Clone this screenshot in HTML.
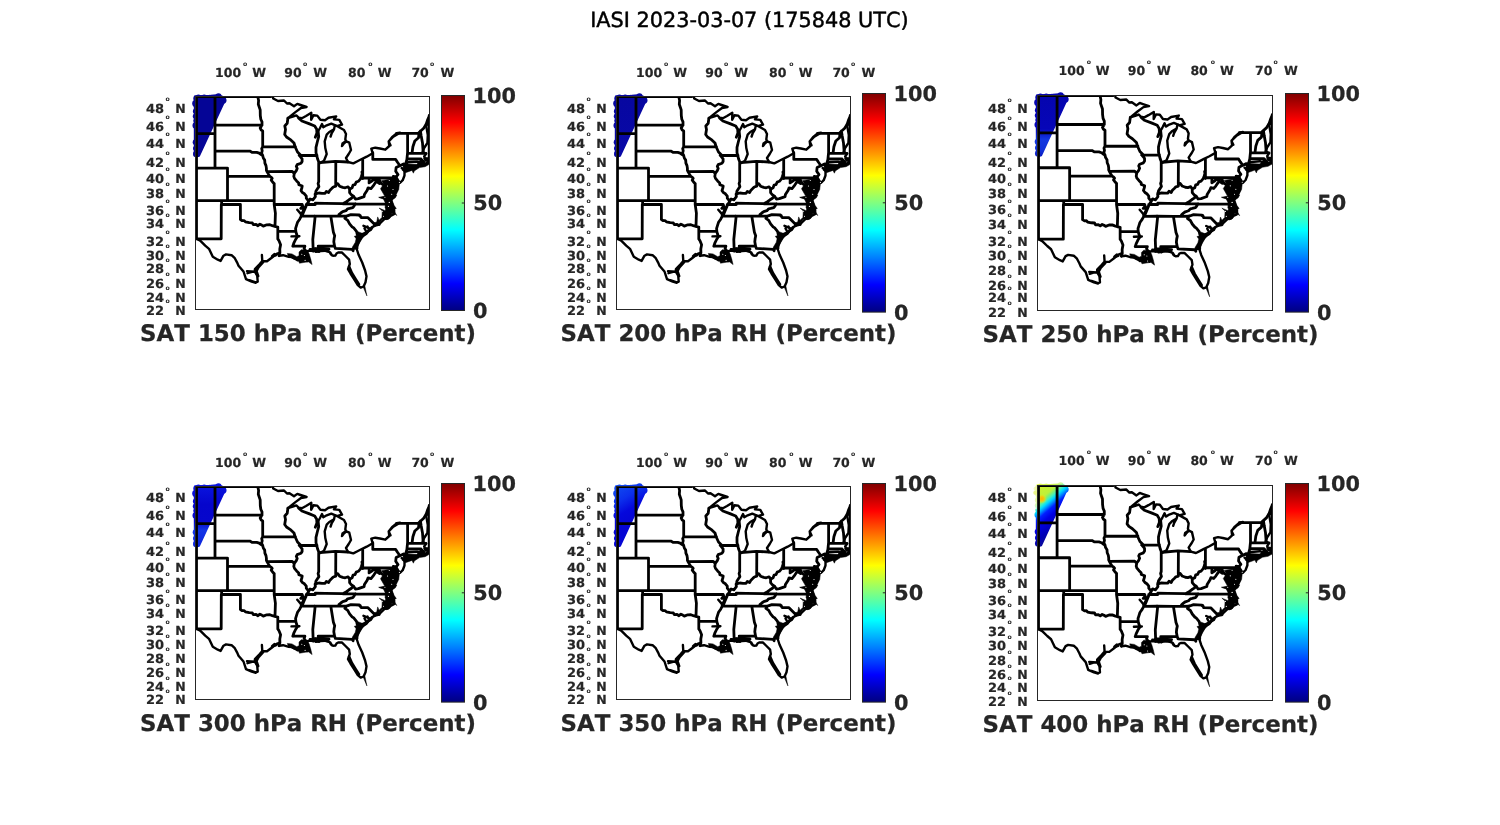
<!DOCTYPE html>
<html><head><meta charset="utf-8"><title>IASI 2023-03-07 (175848 UTC)</title>
<style>
html,body{margin:0;padding:0;background:#fff;}
body{width:1500px;height:825px;overflow:hidden;}
svg{display:block;}
text{font-family:"DejaVu Sans","Liberation Sans",sans-serif;font-kerning:none;text-rendering:geometricPrecision;}
.tt{font-size:20.8px;fill:#000;stroke:#000;stroke-width:0.45px;}
.tk{font-size:12.5px;font-weight:bold;fill:#262626;stroke:#262626;stroke-width:0.2px;}
.dg{font-size:6.2px;font-weight:bold;fill:#262626;}
.cb{font-size:20.8px;font-weight:bold;fill:#262626;stroke:#262626;stroke-width:0.25px;}
.xl{font-size:22.92px;font-weight:bold;fill:#262626;stroke:#262626;stroke-width:0.25px;}
</style></head><body>
<svg width="1500" height="825" viewBox="0 0 1500 825">
<defs>
<clipPath id="clipbox"><rect x="195" y="96" width="235" height="214"/></clipPath>
<linearGradient id="jet" x1="0" y1="0" x2="0" y2="1"><stop offset="0.0000" stop-color="#800000"/><stop offset="0.0312" stop-color="#9f0000"/><stop offset="0.0625" stop-color="#bf0000"/><stop offset="0.0938" stop-color="#df0000"/><stop offset="0.1250" stop-color="#ff0000"/><stop offset="0.1562" stop-color="#ff2000"/><stop offset="0.1875" stop-color="#ff4000"/><stop offset="0.2188" stop-color="#ff6000"/><stop offset="0.2500" stop-color="#ff8000"/><stop offset="0.2812" stop-color="#ff9f00"/><stop offset="0.3125" stop-color="#ffbf00"/><stop offset="0.3438" stop-color="#ffdf00"/><stop offset="0.3750" stop-color="#ffff00"/><stop offset="0.4062" stop-color="#dfff20"/><stop offset="0.4375" stop-color="#bfff40"/><stop offset="0.4688" stop-color="#9fff60"/><stop offset="0.5000" stop-color="#80ff80"/><stop offset="0.5312" stop-color="#60ff9f"/><stop offset="0.5625" stop-color="#40ffbf"/><stop offset="0.5938" stop-color="#20ffdf"/><stop offset="0.6250" stop-color="#00ffff"/><stop offset="0.6562" stop-color="#00dfff"/><stop offset="0.6875" stop-color="#00bfff"/><stop offset="0.7188" stop-color="#009fff"/><stop offset="0.7500" stop-color="#0080ff"/><stop offset="0.7812" stop-color="#0060ff"/><stop offset="0.8125" stop-color="#0040ff"/><stop offset="0.8438" stop-color="#0020ff"/><stop offset="0.8750" stop-color="#0000ff"/><stop offset="0.9062" stop-color="#0000df"/><stop offset="0.9375" stop-color="#0000bf"/><stop offset="0.9688" stop-color="#00009f"/><stop offset="1.0000" stop-color="#000080"/></linearGradient>
<linearGradient id="b1" gradientUnits="userSpaceOnUse" x1="196" y1="96" x2="196" y2="157"><stop offset="0" stop-color="#050596"/><stop offset="1" stop-color="#050596"/></linearGradient>
<linearGradient id="b2" gradientUnits="userSpaceOnUse" x1="196" y1="96" x2="196" y2="157"><stop offset="0" stop-color="#0707a0"/><stop offset="1" stop-color="#0808a8"/></linearGradient>
<linearGradient id="b3" gradientUnits="userSpaceOnUse" x1="196" y1="96" x2="196" y2="157"><stop offset="0" stop-color="#0505ae"/><stop offset="0.55" stop-color="#0606b8"/><stop offset="0.72" stop-color="#1238e0"/><stop offset="0.9" stop-color="#1030d8"/><stop offset="1" stop-color="#0818c0"/></linearGradient>
<linearGradient id="b4" gradientUnits="userSpaceOnUse" x1="196" y1="96" x2="196" y2="157"><stop offset="0" stop-color="#0a14de"/><stop offset="0.3" stop-color="#0505cc"/><stop offset="0.58" stop-color="#0606cc"/><stop offset="0.72" stop-color="#1234e6"/><stop offset="1" stop-color="#0c24dc"/></linearGradient>
<linearGradient id="b5" gradientUnits="userSpaceOnUse" x1="196" y1="98" x2="214" y2="128"><stop offset="0" stop-color="#1048f0"/><stop offset="0.35" stop-color="#0c30ec"/><stop offset="0.7" stop-color="#0508dc"/><stop offset="1" stop-color="#0505d4"/></linearGradient>
<linearGradient id="b6" gradientUnits="userSpaceOnUse" x1="196" y1="97" x2="225.8" y2="132.1"><stop offset="0.000" stop-color="#d4f028"/><stop offset="0.250" stop-color="#bcf03c"/><stop offset="0.304" stop-color="#80f070"/><stop offset="0.359" stop-color="#40f0c0"/><stop offset="0.413" stop-color="#00d8ff"/><stop offset="0.467" stop-color="#0090ff"/><stop offset="0.543" stop-color="#0020ff"/><stop offset="0.663" stop-color="#0000e4"/><stop offset="0.891" stop-color="#0000b4"/><stop offset="1.000" stop-color="#0808a0"/></linearGradient>
<radialGradient id="or6" gradientUnits="userSpaceOnUse" cx="199.9" cy="109.7" r="5"><stop offset="0" stop-color="#ffb000"/><stop offset="0.45" stop-color="#ffc400" stop-opacity="0.85"/><stop offset="1" stop-color="#d8f028" stop-opacity="0"/></radialGradient>
</defs>
<rect width="1500" height="825" fill="#fff"/>
<text class="tt" x="590.2" y="26.9">IASI 2023-03-07 (175848 UTC)</text>
<g transform="matrix(1.00000 0 0 1.00000 0.000 0.000)">
<g><path d="M195 96L211 95.6L216.5 95L222 96.2L225.3 99.6L199.2 156L196.5 156.6L194.6 155L194.6 96.5Z" fill="url(#b1)" stroke="url(#b1)" stroke-width="1.6" stroke-linejoin="round"/>
<circle cx="198.4" cy="97.3" r="2.8" fill="url(#b1)"/>
<circle cx="204.2" cy="97.3" r="2.8" fill="url(#b1)"/>
<circle cx="210" cy="97.5" r="2.8" fill="url(#b1)"/>
<circle cx="218.5" cy="96.4" r="3.1" fill="url(#b1)"/>
<circle cx="223.4" cy="100.4" r="3.1" fill="url(#b1)"/>
<circle cx="196.2" cy="98.6" r="2.8" fill="url(#b1)"/>
<circle cx="195.9" cy="103.4" r="3.7" fill="url(#b1)"/>
<circle cx="195.6" cy="111.2" r="2.7" fill="url(#b1)"/>
<circle cx="195.6" cy="116.3" r="2.8" fill="url(#b1)"/>
<circle cx="195.6" cy="120.8" r="2.3" fill="url(#b1)"/>
<circle cx="195.8" cy="125.5" r="3.3" fill="url(#b1)"/>
<circle cx="195.7" cy="142.3" r="3.0" fill="url(#b1)"/>
<circle cx="195.6" cy="148.3" r="2.6" fill="url(#b1)"/>
<circle cx="196.3" cy="154.0" r="3.3" fill="url(#b1)"/></g>
<path clip-path="url(#clipbox)" d="M402.2 170.4L403.6 165.7L406.9 163.9L416.7 164.3L420.4 160.6L425.1 162.5L429.3 160.6L429.3 164.3L425.1 166.7L419.5 167.6L414.3 170.9L413.4 173.2L412.0 170.4L405.5 172.7ZM423.5 158.0L429.3 157.5L429.3 161.5L424.5 161.5ZM381.4 180.7L389.3 179.3L394.3 177.4L396.3 177.5L399.6 182.1L398.7 189.6L395.4 196.1L391.7 199.9L394.5 208.0L385.1 208.0L386.1 199.9L379.1 197.5L384.7 196.1L380.5 188.7L383.7 184.0ZM429.5 115.5L429.5 126.0L426.0 125.5L427.4 120.4ZM299.0 252.0L301.3 249.7L307.4 250.1L309.3 254.3L310.7 259.0L312.1 264.6L308.3 261.8L305.1 262.3L299.5 263.2L298.5 260.4L294.3 259.5L288.3 256.2L287.3 253.4L292.0 253.9L296.7 256.7L299.0 255.7ZM386.1 195.0L396.8 195.0L395.4 197.8L392.1 200.1L394.0 205.3L396.3 208.5L393.5 209.9L396.8 215.5L394.5 213.7L391.7 213.7L389.8 218.3L387.0 219.7L382.3 219.3L379.5 223.0L379.5 225.3L374.9 226.3L373.0 223.0L376.7 222.1L377.7 216.9L379.1 220.2L381.9 217.4L382.3 210.9L379.1 208.1L384.7 210.4L385.6 209.9L385.1 202.5L383.3 198.7L378.6 197.3L384.7 196.9ZM358.0 231.7L362.7 233.5L369.7 231.2L362.7 237.7L359.9 242.4L358.0 246.1L358.0 248.9L352.4 248.9L352.4 247.1L355.2 242.4L356.1 238.7L354.3 236.3L357.1 235.4ZM362.9 286.3L364.8 285.8L366.9 295.9Z" fill="#000" stroke="#000" stroke-width="0.5" stroke-linejoin="round"/>
<path clip-path="url(#clipbox)" d="M196.5 96.7L270.8 96.7M196.5 96.7L196.5 238.8M215.0 96.7L215.0 168.1M196.5 133.6L215.0 133.6M215.0 125.2L262.0 125.2M215.0 151.1L249.8 151.1L252.3 152.4L253.9 152.3L256.7 152.4L259.2 153.2L261.1 154.6L262.7 155.5M196.5 168.1L227.5 168.1M227.5 168.1L227.5 200.6M227.5 176.4L269.8 176.4M196.5 200.6L274.2 200.6M221.6 200.6L221.6 204.5M221.3 204.5L240.4 204.5M240.4 204.5L240.4 219.5M221.3 204.5L221.2 238.8M221.2 238.8L196.5 238.8M257.8 96.7L258.6 100.5L258.3 104.3L260.2 109.9L260.3 115.5L260.8 119.2L262.0 121.9L262.0 125.2L260.2 128.1L261.2 130.0L262.7 130.9L262.7 146.8M262.7 146.8L295.5 146.8M262.7 146.8L261.7 148.6L262.2 150.7L261.6 153.3L262.7 155.5M262.7 155.5L263.3 158.0L264.7 160.1L264.9 163.1L266.0 165.6L266.4 168.1L266.4 170.2L267.0 171.6L268.3 173.9L269.8 176.4L271.5 177.5L272.2 178.4L271.2 180.1L272.4 181.7L274.2 183.7M267.0 171.6L292.3 171.4L293.8 173.1L294.3 173.3M274.2 183.7L274.2 204.5M274.2 204.5L275.4 213.1L275.0 226.5M274.2 204.5L302.2 204.5L302.7 206.1L300.8 208.4L305.1 208.4M240.4 219.5L242.3 220.7L244.2 220.6L245.4 221.9L249.2 222.6L252.3 222.8L253.3 224.7L256.1 224.5L258.0 225.7L259.9 224.2L261.7 225.1L263.3 226.1L266.8 224.8L269.9 224.7L272.4 225.7L275.0 226.5L277.8 227.2M277.8 227.2L277.8 238.9L279.0 240.7L280.6 244.7L279.8 249.1L279.9 252.8L279.0 255.7M277.8 231.2L295.8 231.3M299.2 155.4L300.7 157.1L302.1 158.8L302.1 161.4L301.0 163.2L297.2 164.6L296.3 166.3L297.2 168.5L296.3 170.6L294.3 173.3L293.8 176.4L294.5 178.4L296.6 180.9L298.7 182.9L298.8 184.6L300.3 185.2L302.2 186.0L301.9 187.8L301.0 190.6L302.5 192.6L304.4 193.8L306.3 196.2L306.3 198.2L307.6 199.8L308.6 200.7L308.2 203.7L306.3 204.5L306.0 206.4L305.1 208.4L303.8 211.5L302.5 214.6L301.3 216.2L299.7 219.2L297.5 222.3L296.3 226.1L295.6 228.3L295.8 231.3L296.6 234.3L297.5 236.6L295.6 239.5L293.8 243.2L292.8 246.2M292.8 246.2L304.9 246.2L304.1 248.4L305.4 250.6L306.1 252.2M299.2 155.4L317.0 155.5M318.7 162.1L318.7 181.7L318.1 183.7L318.9 186.6L317.3 189.0L316.0 191.0L315.6 192.6L315.1 194.2M362.7 171.1L361.9 171.9L362.2 173.9L361.4 176.4L360.5 178.9L358.4 181.3L356.2 182.1L355.0 184.6L353.1 185.0L352.1 187.8L349.6 189.2L348.1 186.8L345.2 187.8L342.7 187.4L339.6 186.2L337.7 183.7L335.7 183.7L335.8 186.2L333.3 187.0L331.7 188.6L329.8 190.4L328.6 192.6L326.4 191.4L325.1 193.3L322.0 193.3L318.9 193.0L316.4 193.6L315.1 194.2L315.4 196.6L312.9 199.8L310.1 199.0L308.6 200.7M335.7 183.7L335.8 162.2M306.3 204.5L315.3 204.5L315.3 203.1L325.1 203.3L342.8 203.7L355.4 203.8L365.9 204.1L391.9 204.1M342.8 203.7L346.5 201.7L349.0 199.8L351.5 198.2L353.6 196.3L351.5 195.0L349.6 192.6L349.6 189.2M355.4 203.8L354.0 206.1L352.8 207.6L349.6 208.4L347.7 208.8L345.9 210.7L342.7 211.7L340.8 213.0L338.9 214.6L338.8 216.2M301.3 216.2L314.5 216.1L330.8 216.2L338.8 216.2L346.4 216.1M346.4 216.1L350.9 214.6L359.3 215.0L359.5 215.7L360.1 215.4L361.0 217.5L368.0 217.7L375.0 224.8M314.5 216.1L315.1 216.9L312.8 239.5L313.2 251.0M330.8 216.2L333.4 232.3L334.7 235.8L334.1 238.8L333.8 241.8L334.6 246.2M334.6 246.2L318.2 246.2L319.5 248.4L318.9 251.5M334.6 246.2L335.4 248.4L352.1 249.3L353.1 250.8L353.4 248.4L355.3 248.0L356.8 248.4M346.4 216.1L344.9 218.4L347.7 220.3L349.6 223.8L352.1 226.8L353.7 227.9L356.5 231.3L357.2 234.3L358.7 237.3L360.3 238.6M353.6 196.3L355.4 199.0L358.4 198.6L364.1 196.6L364.4 194.6L367.2 190.2L368.1 187.8L371.0 188.6L373.0 186.2L376.3 181.3L379.6 183.5L380.3 182.0L379.1 179.7L377.2 178.9L375.7 180.1L373.5 179.5L372.2 180.9L369.1 182.9L369.2 178.7M362.7 178.0L392.4 178.0L393.6 177.5M362.7 178.7L362.7 159.9M392.4 178.7L392.4 189.0L397.0 189.0M380.3 182.0L381.6 183.7L384.0 185.1L384.5 187.0L382.9 189.4L384.8 190.2L387.3 191.4L389.2 193.0M270.8 96.7M287.9 118.2L287.2 123.3L284.8 126.0L285.5 129.5L284.7 134.5L286.5 137.0L290.0 139.3L294.0 143.0L295.0 146.5L297.5 152.0L301.0 155.5M298.7 118.2L301.9 121.0L308.9 123.6L314.7 126.0L316.7 129.3L316.9 133.0M316.9 133.0L315.3 137.2L316.2 135.0L318.2 132.0L318.7 136.7L317.3 142.0L316.0 147.3L316.0 152.7L317.7 159.3L319.3 163.3M320.0 162.6L335.3 161.3L348.0 162.0M396.6 133.3L419.0 133.3M407.6 133.3L407.6 152.3L406.9 159.3L405.9 163.0L404.0 165.5M419.0 133.3L418.5 137.8L414.8 141.0L412.9 146.7L412.0 153.3M420.4 131.0L421.2 136.0L422.5 143.0L423.2 152.3M419.0 132.5L423.7 128.3L426.0 124.6L427.4 120.4L429.5 115.5M429.2 115.5L429.2 160.0M407.6 153.4L426.0 153.4M406.9 159.0L420.9 159.0L423.7 162.0M420.9 159.0L421.0 163.0M372.8 152.7L372.8 159.4L395.7 159.4L397.5 162.3L399.9 165.7L396.1 167.6L395.7 171.3L398.0 174.6L396.1 176.8L393.3 176.5M399.9 165.7L403.5 164.0M310.0 249.5L327.7 250.9M313.0 248.3L329.0 249.2M309.8 199.5L306.5 205.0L303.8 210.0L301.2 215.0M275.8 255.2L272.2 256.3L274.5 254.2M262.8 262.4L258.3 267.3L256.3 271.0L258.0 276.0M349.2 267.0L351.8 273.0L355.6 279.2L358.8 284.3" fill="none" stroke="#000" stroke-width="2.8" stroke-linejoin="round" stroke-linecap="round"/>
<path clip-path="url(#clipbox)" d="M393.9 179.7L394.8 182.1L396.7 186.2L397.0 189.0L395.8 192.4L393.6 196.2L391.4 199.6L391.0 196.6L392.3 193.0L391.7 191.0L389.2 188.6L389.8 186.2L390.4 184.6L391.0 181.3L390.4 180.1L388.5 182.9L387.9 185.4L388.5 190.2L389.2 192.6L387.3 191.4L389.2 193.0L389.5 193.4L386.7 193.0L389.2 196.2L386.0 196.6L389.2 198.6L385.4 199.0L389.2 200.6L391.0 201.1L391.9 204.1M391.9 204.1L394.2 210.7L394.0 214.2L391.0 215.6L387.9 218.4L384.8 218.7L380.4 223.0L378.8 224.9L375.0 224.8L372.2 227.6L371.0 229.8L368.5 231.3L366.6 233.6L363.4 235.5L361.5 237.3L360.3 238.6L358.4 242.5L357.2 246.2L356.8 248.4M391.9 204.1L391.0 206.8L387.3 208.4L391.7 208.8L392.3 211.5L387.3 212.3L389.8 213.8L385.4 215.4L387.9 216.5L387.9 218.4M332.0 255.3L330.2 252.4L325.1 250.7L320.7 251.1L318.9 251.5L315.7 251.8L315.7 248.8L315.1 251.0L313.2 251.0L309.4 250.6L306.9 251.3L306.1 252.2L304.4 253.1L306.9 255.0L307.6 258.2L309.4 259.7L306.9 261.1L303.8 258.6L301.9 260.0L297.5 260.4L295.0 258.6L291.9 257.1L288.7 256.8L283.1 255.2L279.0 255.7M255.8 282.8L251.7 281.7L246.0 279.2L243.5 271.5L238.5 265.8L237.3 262.9L234.8 258.2L231.6 255.2L226.0 254.4L223.5 255.7L220.6 260.9L217.8 259.7L212.8 256.8L210.9 252.8L209.0 248.8L205.2 245.6L200.2 240.7L196.5 238.8M273.0 96.8L273.2 98.5L278.0 101.0L284.0 100.5L287.0 103.5L289.5 103.2L294.0 106.3L297.3 103.9L300.5 105.0L306.6 107.0L301.0 108.0L295.4 112.1L287.9 118.2M287.9 118.2L293.5 116.3L296.3 115.4L298.7 117.6L301.9 118.2L306.0 116.0L311.3 112.8L311.2 119.8L313.5 115.2L317.3 115.6L320.4 119.8L325.0 120.2L328.5 117.8L336.2 116.4L334.0 119.4L339.3 119.9L342.0 124.6L337.5 125.8M318.0 131.5L320.0 128.0L322.0 124.0L323.3 127.3L326.7 125.3L331.3 123.6L336.0 125.6M336.0 125.6L334.7 126.3L334.0 129.3L329.3 132.0L326.7 134.7L324.7 141.3L325.3 148.0L326.7 154.0L324.0 160.7L319.3 163.3M334.0 129.3L331.6 133.5L330.6 136.5M337.3 126.3L344.0 130.0L346.0 134.0L345.3 139.3L346.0 141.0L342.5 143.5L342.0 146.0L343.5 144.0L346.3 141.3L349.3 142.7L351.0 150.0L348.7 154.0L346.0 158.0L348.0 162.0M348.0 162.0L353.3 163.4L357.0 161.5L361.3 159.3L366.7 156.7L372.7 153.3L371.3 148.7L375.3 147.7L380.0 148.5L385.3 149.7L389.3 146.0L388.7 141.3L393.3 136.7L400.0 132.7M400.0 132.7L396.6 133.3L392.0 137.2L388.7 141.5L390.5 145.3M426.0 124.6L427.8 135.0L427.4 143.0L424.1 148.0L422.7 151.8L426.0 153.8M426.0 153.8L424.2 156.5L425.0 158.2L429.3 159.3M404.0 165.5L408.0 162.3L417.0 161.6L421.0 163.0M401.7 168.0L404.5 170.4L404.5 175.5L402.7 180.2L399.9 183.0L398.0 180.2L396.1 176.8M291.5 236.4L299.4 236.2M297.3 209.7L300.6 213.6M379.5 224.5L376.7 225.0L372.0 227.2L367.3 231.7L362.7 234.0L358.9 235.4M369.0 228.2L363.5 225.8M369.0 229.8L367.5 226.5M366.5 232.0L364.5 228.5M279.3 253.0L276.5 254.0L274.3 255.3L271.7 257.8L267.0 261.3L262.3 261.1L259.5 264.3L254.9 269.0L254.9 271.8L257.2 275.5L257.7 281.6L255.8 282.5L249.3 280.2M262.3 261.1L261.9 255.0M254.9 271.8L247.0 271.2M252.0 271.8L247.5 273.2M327.7 250.9L329.5 252.0L330.9 254.5L333.0 255.7L335.3 255.6L336.8 253.2L338.2 252.5L341.8 252.4L345.5 256.0L349.1 259.6L349.8 264.0L348.0 269.1L350.5 273.5L354.2 279.3L357.8 285.1L360.7 287.6L363.6 286.5M356.4 248.0L358.5 254.5L362.2 262.5L365.1 270.5L366.5 276.4L365.5 282.2L363.6 286.5" fill="none" stroke="#000" stroke-width="2.4" stroke-linejoin="round" stroke-linecap="round"/>
<circle cx="389.3" cy="180.5" r="0.55" fill="#fff"/><circle cx="399.4" cy="182.4" r="0.55" fill="#fff"/><circle cx="384.9" cy="197.3" r="0.55" fill="#fff"/><circle cx="391.7" cy="194.3" r="0.55" fill="#fff"/><circle cx="389.3" cy="202.2" r="0.55" fill="#fff"/><circle cx="388.4" cy="206.4" r="0.55" fill="#fff"/><circle cx="389.3" cy="202.5" r="0.55" fill="#fff"/><circle cx="382.6" cy="211.3" r="0.55" fill="#fff"/><circle cx="383.5" cy="216.3" r="0.55" fill="#fff"/><circle cx="301.8" cy="254.3" r="0.55" fill="#fff"/><circle cx="304.4" cy="255.5" r="0.55" fill="#fff"/><circle cx="305.1" cy="260.4" r="0.55" fill="#fff"/><circle cx="387.5" cy="186" r="0.55" fill="#fff"/><circle cx="393" cy="189.5" r="0.55" fill="#fff"/>
</g>
<rect x="195.5" y="96.5" width="234" height="213" fill="none" stroke="#262626" stroke-width="1"/>
<text class="tk" x="215.0" y="76.8">100</text><text class="dg" x="243.1" y="65.9">o</text><text class="tk" x="252.2" y="76.8">W</text>
<text class="tk" x="284.2" y="76.8">90</text><text class="dg" x="303.1" y="65.9">o</text><text class="tk" x="313.3" y="76.8">W</text>
<text class="tk" x="348.0" y="76.8">80</text><text class="dg" x="368.3" y="65.9">o</text><text class="tk" x="377.7" y="76.8">W</text>
<text class="tk" x="411.4" y="76.8">70</text><text class="dg" x="429.9" y="65.9">o</text><text class="tk" x="440.5" y="76.8">W</text>
<text class="tk" x="145.9" y="112.7" textLength="18.1" lengthAdjust="spacingAndGlyphs">48</text><text class="dg" x="165.6" y="101.3">o</text><text class="tk" x="175.3" y="112.7">N</text>
<text class="tk" x="145.9" y="130.8" textLength="18.1" lengthAdjust="spacingAndGlyphs">46</text><text class="dg" x="165.6" y="119.4">o</text><text class="tk" x="175.3" y="130.8">N</text>
<text class="tk" x="145.9" y="147.6" textLength="18.1" lengthAdjust="spacingAndGlyphs">44</text><text class="dg" x="165.6" y="136.2">o</text><text class="tk" x="175.3" y="147.6">N</text>
<text class="tk" x="145.9" y="166.6" textLength="18.1" lengthAdjust="spacingAndGlyphs">42</text><text class="dg" x="165.6" y="155.2">o</text><text class="tk" x="175.3" y="166.6">N</text>
<text class="tk" x="145.9" y="182.8" textLength="18.1" lengthAdjust="spacingAndGlyphs">40</text><text class="dg" x="165.6" y="171.4">o</text><text class="tk" x="175.3" y="182.8">N</text>
<text class="tk" x="145.9" y="197.8" textLength="18.1" lengthAdjust="spacingAndGlyphs">38</text><text class="dg" x="165.6" y="186.4">o</text><text class="tk" x="175.3" y="197.8">N</text>
<text class="tk" x="145.9" y="214.5" textLength="18.1" lengthAdjust="spacingAndGlyphs">36</text><text class="dg" x="165.6" y="203.1">o</text><text class="tk" x="175.3" y="214.5">N</text>
<text class="tk" x="145.9" y="228.3" textLength="18.1" lengthAdjust="spacingAndGlyphs">34</text><text class="dg" x="165.6" y="216.9">o</text><text class="tk" x="175.3" y="228.3">N</text>
<text class="tk" x="145.9" y="245.8" textLength="18.1" lengthAdjust="spacingAndGlyphs">32</text><text class="dg" x="165.6" y="234.4">o</text><text class="tk" x="175.3" y="245.8">N</text>
<text class="tk" x="145.9" y="259.8" textLength="18.1" lengthAdjust="spacingAndGlyphs">30</text><text class="dg" x="165.6" y="248.4">o</text><text class="tk" x="175.3" y="259.8">N</text>
<text class="tk" x="145.9" y="273.0" textLength="18.1" lengthAdjust="spacingAndGlyphs">28</text><text class="dg" x="165.6" y="261.6">o</text><text class="tk" x="175.3" y="273.0">N</text>
<text class="tk" x="145.9" y="287.7" textLength="18.1" lengthAdjust="spacingAndGlyphs">26</text><text class="dg" x="165.6" y="276.3">o</text><text class="tk" x="175.3" y="287.7">N</text>
<text class="tk" x="145.9" y="301.8" textLength="18.1" lengthAdjust="spacingAndGlyphs">24</text><text class="dg" x="165.6" y="290.4">o</text><text class="tk" x="175.3" y="301.8">N</text>
<text class="tk" x="145.9" y="314.7" textLength="18.1" lengthAdjust="spacingAndGlyphs">22</text><text class="dg" x="165.6" y="303.3">o</text><text class="tk" x="175.3" y="314.7">N</text>
<rect x="441.5" y="95.5" width="23" height="215" fill="url(#jet)" stroke="#262626" stroke-width="1"/>
<path d="M464.5 203.0h-2.7" stroke="#262626" stroke-width="1"/>
<text class="cb" x="472.6" y="102.8">100</text><text class="cb" x="473.2" y="210.0">50</text><text class="cb" x="473.0" y="318.1">0</text>
<text class="xl" x="140.1" y="340.9">SAT 150 hPa RH (Percent)</text>
<g transform="matrix(1.00000 0 0 1.00000 421.000 0.000)">
<g><path d="M195 96L211 95.6L216.5 95L222 96.2L225.3 99.6L199.2 156L196.5 156.6L194.6 155L194.6 96.5Z" fill="url(#b2)" stroke="url(#b2)" stroke-width="1.6" stroke-linejoin="round"/>
<circle cx="198.4" cy="97.3" r="2.8" fill="url(#b2)"/>
<circle cx="204.2" cy="97.3" r="2.8" fill="url(#b2)"/>
<circle cx="210" cy="97.5" r="2.8" fill="url(#b2)"/>
<circle cx="218.5" cy="96.4" r="3.1" fill="url(#b2)"/>
<circle cx="223.4" cy="100.4" r="3.1" fill="url(#b2)"/>
<circle cx="196.2" cy="98.6" r="2.8" fill="url(#b2)"/>
<circle cx="195.9" cy="103.4" r="3.7" fill="url(#b2)"/>
<circle cx="195.6" cy="111.2" r="2.7" fill="url(#b2)"/>
<circle cx="195.6" cy="116.3" r="2.8" fill="url(#b2)"/>
<circle cx="195.6" cy="120.8" r="2.3" fill="url(#b2)"/>
<circle cx="195.8" cy="125.5" r="3.3" fill="url(#b2)"/>
<circle cx="195.7" cy="142.3" r="3.0" fill="url(#b2)"/>
<circle cx="195.6" cy="148.3" r="2.6" fill="url(#b2)"/>
<circle cx="196.3" cy="154.0" r="3.3" fill="url(#b2)"/></g>
<path clip-path="url(#clipbox)" d="M402.2 170.4L403.6 165.7L406.9 163.9L416.7 164.3L420.4 160.6L425.1 162.5L429.3 160.6L429.3 164.3L425.1 166.7L419.5 167.6L414.3 170.9L413.4 173.2L412.0 170.4L405.5 172.7ZM423.5 158.0L429.3 157.5L429.3 161.5L424.5 161.5ZM381.4 180.7L389.3 179.3L394.3 177.4L396.3 177.5L399.6 182.1L398.7 189.6L395.4 196.1L391.7 199.9L394.5 208.0L385.1 208.0L386.1 199.9L379.1 197.5L384.7 196.1L380.5 188.7L383.7 184.0ZM429.5 115.5L429.5 126.0L426.0 125.5L427.4 120.4ZM299.0 252.0L301.3 249.7L307.4 250.1L309.3 254.3L310.7 259.0L312.1 264.6L308.3 261.8L305.1 262.3L299.5 263.2L298.5 260.4L294.3 259.5L288.3 256.2L287.3 253.4L292.0 253.9L296.7 256.7L299.0 255.7ZM386.1 195.0L396.8 195.0L395.4 197.8L392.1 200.1L394.0 205.3L396.3 208.5L393.5 209.9L396.8 215.5L394.5 213.7L391.7 213.7L389.8 218.3L387.0 219.7L382.3 219.3L379.5 223.0L379.5 225.3L374.9 226.3L373.0 223.0L376.7 222.1L377.7 216.9L379.1 220.2L381.9 217.4L382.3 210.9L379.1 208.1L384.7 210.4L385.6 209.9L385.1 202.5L383.3 198.7L378.6 197.3L384.7 196.9ZM358.0 231.7L362.7 233.5L369.7 231.2L362.7 237.7L359.9 242.4L358.0 246.1L358.0 248.9L352.4 248.9L352.4 247.1L355.2 242.4L356.1 238.7L354.3 236.3L357.1 235.4ZM362.9 286.3L364.8 285.8L366.9 295.9Z" fill="#000" stroke="#000" stroke-width="0.5" stroke-linejoin="round"/>
<path clip-path="url(#clipbox)" d="M196.5 96.7L270.8 96.7M196.5 96.7L196.5 238.8M215.0 96.7L215.0 168.1M196.5 133.6L215.0 133.6M215.0 125.2L262.0 125.2M215.0 151.1L249.8 151.1L252.3 152.4L253.9 152.3L256.7 152.4L259.2 153.2L261.1 154.6L262.7 155.5M196.5 168.1L227.5 168.1M227.5 168.1L227.5 200.6M227.5 176.4L269.8 176.4M196.5 200.6L274.2 200.6M221.6 200.6L221.6 204.5M221.3 204.5L240.4 204.5M240.4 204.5L240.4 219.5M221.3 204.5L221.2 238.8M221.2 238.8L196.5 238.8M257.8 96.7L258.6 100.5L258.3 104.3L260.2 109.9L260.3 115.5L260.8 119.2L262.0 121.9L262.0 125.2L260.2 128.1L261.2 130.0L262.7 130.9L262.7 146.8M262.7 146.8L295.5 146.8M262.7 146.8L261.7 148.6L262.2 150.7L261.6 153.3L262.7 155.5M262.7 155.5L263.3 158.0L264.7 160.1L264.9 163.1L266.0 165.6L266.4 168.1L266.4 170.2L267.0 171.6L268.3 173.9L269.8 176.4L271.5 177.5L272.2 178.4L271.2 180.1L272.4 181.7L274.2 183.7M267.0 171.6L292.3 171.4L293.8 173.1L294.3 173.3M274.2 183.7L274.2 204.5M274.2 204.5L275.4 213.1L275.0 226.5M274.2 204.5L302.2 204.5L302.7 206.1L300.8 208.4L305.1 208.4M240.4 219.5L242.3 220.7L244.2 220.6L245.4 221.9L249.2 222.6L252.3 222.8L253.3 224.7L256.1 224.5L258.0 225.7L259.9 224.2L261.7 225.1L263.3 226.1L266.8 224.8L269.9 224.7L272.4 225.7L275.0 226.5L277.8 227.2M277.8 227.2L277.8 238.9L279.0 240.7L280.6 244.7L279.8 249.1L279.9 252.8L279.0 255.7M277.8 231.2L295.8 231.3M299.2 155.4L300.7 157.1L302.1 158.8L302.1 161.4L301.0 163.2L297.2 164.6L296.3 166.3L297.2 168.5L296.3 170.6L294.3 173.3L293.8 176.4L294.5 178.4L296.6 180.9L298.7 182.9L298.8 184.6L300.3 185.2L302.2 186.0L301.9 187.8L301.0 190.6L302.5 192.6L304.4 193.8L306.3 196.2L306.3 198.2L307.6 199.8L308.6 200.7L308.2 203.7L306.3 204.5L306.0 206.4L305.1 208.4L303.8 211.5L302.5 214.6L301.3 216.2L299.7 219.2L297.5 222.3L296.3 226.1L295.6 228.3L295.8 231.3L296.6 234.3L297.5 236.6L295.6 239.5L293.8 243.2L292.8 246.2M292.8 246.2L304.9 246.2L304.1 248.4L305.4 250.6L306.1 252.2M299.2 155.4L317.0 155.5M318.7 162.1L318.7 181.7L318.1 183.7L318.9 186.6L317.3 189.0L316.0 191.0L315.6 192.6L315.1 194.2M362.7 171.1L361.9 171.9L362.2 173.9L361.4 176.4L360.5 178.9L358.4 181.3L356.2 182.1L355.0 184.6L353.1 185.0L352.1 187.8L349.6 189.2L348.1 186.8L345.2 187.8L342.7 187.4L339.6 186.2L337.7 183.7L335.7 183.7L335.8 186.2L333.3 187.0L331.7 188.6L329.8 190.4L328.6 192.6L326.4 191.4L325.1 193.3L322.0 193.3L318.9 193.0L316.4 193.6L315.1 194.2L315.4 196.6L312.9 199.8L310.1 199.0L308.6 200.7M335.7 183.7L335.8 162.2M306.3 204.5L315.3 204.5L315.3 203.1L325.1 203.3L342.8 203.7L355.4 203.8L365.9 204.1L391.9 204.1M342.8 203.7L346.5 201.7L349.0 199.8L351.5 198.2L353.6 196.3L351.5 195.0L349.6 192.6L349.6 189.2M355.4 203.8L354.0 206.1L352.8 207.6L349.6 208.4L347.7 208.8L345.9 210.7L342.7 211.7L340.8 213.0L338.9 214.6L338.8 216.2M301.3 216.2L314.5 216.1L330.8 216.2L338.8 216.2L346.4 216.1M346.4 216.1L350.9 214.6L359.3 215.0L359.5 215.7L360.1 215.4L361.0 217.5L368.0 217.7L375.0 224.8M314.5 216.1L315.1 216.9L312.8 239.5L313.2 251.0M330.8 216.2L333.4 232.3L334.7 235.8L334.1 238.8L333.8 241.8L334.6 246.2M334.6 246.2L318.2 246.2L319.5 248.4L318.9 251.5M334.6 246.2L335.4 248.4L352.1 249.3L353.1 250.8L353.4 248.4L355.3 248.0L356.8 248.4M346.4 216.1L344.9 218.4L347.7 220.3L349.6 223.8L352.1 226.8L353.7 227.9L356.5 231.3L357.2 234.3L358.7 237.3L360.3 238.6M353.6 196.3L355.4 199.0L358.4 198.6L364.1 196.6L364.4 194.6L367.2 190.2L368.1 187.8L371.0 188.6L373.0 186.2L376.3 181.3L379.6 183.5L380.3 182.0L379.1 179.7L377.2 178.9L375.7 180.1L373.5 179.5L372.2 180.9L369.1 182.9L369.2 178.7M362.7 178.0L392.4 178.0L393.6 177.5M362.7 178.7L362.7 159.9M392.4 178.7L392.4 189.0L397.0 189.0M380.3 182.0L381.6 183.7L384.0 185.1L384.5 187.0L382.9 189.4L384.8 190.2L387.3 191.4L389.2 193.0M270.8 96.7M287.9 118.2L287.2 123.3L284.8 126.0L285.5 129.5L284.7 134.5L286.5 137.0L290.0 139.3L294.0 143.0L295.0 146.5L297.5 152.0L301.0 155.5M298.7 118.2L301.9 121.0L308.9 123.6L314.7 126.0L316.7 129.3L316.9 133.0M316.9 133.0L315.3 137.2L316.2 135.0L318.2 132.0L318.7 136.7L317.3 142.0L316.0 147.3L316.0 152.7L317.7 159.3L319.3 163.3M320.0 162.6L335.3 161.3L348.0 162.0M396.6 133.3L419.0 133.3M407.6 133.3L407.6 152.3L406.9 159.3L405.9 163.0L404.0 165.5M419.0 133.3L418.5 137.8L414.8 141.0L412.9 146.7L412.0 153.3M420.4 131.0L421.2 136.0L422.5 143.0L423.2 152.3M419.0 132.5L423.7 128.3L426.0 124.6L427.4 120.4L429.5 115.5M429.2 115.5L429.2 160.0M407.6 153.4L426.0 153.4M406.9 159.0L420.9 159.0L423.7 162.0M420.9 159.0L421.0 163.0M372.8 152.7L372.8 159.4L395.7 159.4L397.5 162.3L399.9 165.7L396.1 167.6L395.7 171.3L398.0 174.6L396.1 176.8L393.3 176.5M399.9 165.7L403.5 164.0M310.0 249.5L327.7 250.9M313.0 248.3L329.0 249.2M309.8 199.5L306.5 205.0L303.8 210.0L301.2 215.0M275.8 255.2L272.2 256.3L274.5 254.2M262.8 262.4L258.3 267.3L256.3 271.0L258.0 276.0M349.2 267.0L351.8 273.0L355.6 279.2L358.8 284.3" fill="none" stroke="#000" stroke-width="2.8" stroke-linejoin="round" stroke-linecap="round"/>
<path clip-path="url(#clipbox)" d="M393.9 179.7L394.8 182.1L396.7 186.2L397.0 189.0L395.8 192.4L393.6 196.2L391.4 199.6L391.0 196.6L392.3 193.0L391.7 191.0L389.2 188.6L389.8 186.2L390.4 184.6L391.0 181.3L390.4 180.1L388.5 182.9L387.9 185.4L388.5 190.2L389.2 192.6L387.3 191.4L389.2 193.0L389.5 193.4L386.7 193.0L389.2 196.2L386.0 196.6L389.2 198.6L385.4 199.0L389.2 200.6L391.0 201.1L391.9 204.1M391.9 204.1L394.2 210.7L394.0 214.2L391.0 215.6L387.9 218.4L384.8 218.7L380.4 223.0L378.8 224.9L375.0 224.8L372.2 227.6L371.0 229.8L368.5 231.3L366.6 233.6L363.4 235.5L361.5 237.3L360.3 238.6L358.4 242.5L357.2 246.2L356.8 248.4M391.9 204.1L391.0 206.8L387.3 208.4L391.7 208.8L392.3 211.5L387.3 212.3L389.8 213.8L385.4 215.4L387.9 216.5L387.9 218.4M332.0 255.3L330.2 252.4L325.1 250.7L320.7 251.1L318.9 251.5L315.7 251.8L315.7 248.8L315.1 251.0L313.2 251.0L309.4 250.6L306.9 251.3L306.1 252.2L304.4 253.1L306.9 255.0L307.6 258.2L309.4 259.7L306.9 261.1L303.8 258.6L301.9 260.0L297.5 260.4L295.0 258.6L291.9 257.1L288.7 256.8L283.1 255.2L279.0 255.7M255.8 282.8L251.7 281.7L246.0 279.2L243.5 271.5L238.5 265.8L237.3 262.9L234.8 258.2L231.6 255.2L226.0 254.4L223.5 255.7L220.6 260.9L217.8 259.7L212.8 256.8L210.9 252.8L209.0 248.8L205.2 245.6L200.2 240.7L196.5 238.8M273.0 96.8L273.2 98.5L278.0 101.0L284.0 100.5L287.0 103.5L289.5 103.2L294.0 106.3L297.3 103.9L300.5 105.0L306.6 107.0L301.0 108.0L295.4 112.1L287.9 118.2M287.9 118.2L293.5 116.3L296.3 115.4L298.7 117.6L301.9 118.2L306.0 116.0L311.3 112.8L311.2 119.8L313.5 115.2L317.3 115.6L320.4 119.8L325.0 120.2L328.5 117.8L336.2 116.4L334.0 119.4L339.3 119.9L342.0 124.6L337.5 125.8M318.0 131.5L320.0 128.0L322.0 124.0L323.3 127.3L326.7 125.3L331.3 123.6L336.0 125.6M336.0 125.6L334.7 126.3L334.0 129.3L329.3 132.0L326.7 134.7L324.7 141.3L325.3 148.0L326.7 154.0L324.0 160.7L319.3 163.3M334.0 129.3L331.6 133.5L330.6 136.5M337.3 126.3L344.0 130.0L346.0 134.0L345.3 139.3L346.0 141.0L342.5 143.5L342.0 146.0L343.5 144.0L346.3 141.3L349.3 142.7L351.0 150.0L348.7 154.0L346.0 158.0L348.0 162.0M348.0 162.0L353.3 163.4L357.0 161.5L361.3 159.3L366.7 156.7L372.7 153.3L371.3 148.7L375.3 147.7L380.0 148.5L385.3 149.7L389.3 146.0L388.7 141.3L393.3 136.7L400.0 132.7M400.0 132.7L396.6 133.3L392.0 137.2L388.7 141.5L390.5 145.3M426.0 124.6L427.8 135.0L427.4 143.0L424.1 148.0L422.7 151.8L426.0 153.8M426.0 153.8L424.2 156.5L425.0 158.2L429.3 159.3M404.0 165.5L408.0 162.3L417.0 161.6L421.0 163.0M401.7 168.0L404.5 170.4L404.5 175.5L402.7 180.2L399.9 183.0L398.0 180.2L396.1 176.8M291.5 236.4L299.4 236.2M297.3 209.7L300.6 213.6M379.5 224.5L376.7 225.0L372.0 227.2L367.3 231.7L362.7 234.0L358.9 235.4M369.0 228.2L363.5 225.8M369.0 229.8L367.5 226.5M366.5 232.0L364.5 228.5M279.3 253.0L276.5 254.0L274.3 255.3L271.7 257.8L267.0 261.3L262.3 261.1L259.5 264.3L254.9 269.0L254.9 271.8L257.2 275.5L257.7 281.6L255.8 282.5L249.3 280.2M262.3 261.1L261.9 255.0M254.9 271.8L247.0 271.2M252.0 271.8L247.5 273.2M327.7 250.9L329.5 252.0L330.9 254.5L333.0 255.7L335.3 255.6L336.8 253.2L338.2 252.5L341.8 252.4L345.5 256.0L349.1 259.6L349.8 264.0L348.0 269.1L350.5 273.5L354.2 279.3L357.8 285.1L360.7 287.6L363.6 286.5M356.4 248.0L358.5 254.5L362.2 262.5L365.1 270.5L366.5 276.4L365.5 282.2L363.6 286.5" fill="none" stroke="#000" stroke-width="2.4" stroke-linejoin="round" stroke-linecap="round"/>
<circle cx="389.3" cy="180.5" r="0.55" fill="#fff"/><circle cx="399.4" cy="182.4" r="0.55" fill="#fff"/><circle cx="384.9" cy="197.3" r="0.55" fill="#fff"/><circle cx="391.7" cy="194.3" r="0.55" fill="#fff"/><circle cx="389.3" cy="202.2" r="0.55" fill="#fff"/><circle cx="388.4" cy="206.4" r="0.55" fill="#fff"/><circle cx="389.3" cy="202.5" r="0.55" fill="#fff"/><circle cx="382.6" cy="211.3" r="0.55" fill="#fff"/><circle cx="383.5" cy="216.3" r="0.55" fill="#fff"/><circle cx="301.8" cy="254.3" r="0.55" fill="#fff"/><circle cx="304.4" cy="255.5" r="0.55" fill="#fff"/><circle cx="305.1" cy="260.4" r="0.55" fill="#fff"/><circle cx="387.5" cy="186" r="0.55" fill="#fff"/><circle cx="393" cy="189.5" r="0.55" fill="#fff"/>
</g>
<rect x="616.5" y="96.5" width="234" height="213" fill="none" stroke="#262626" stroke-width="1"/>
<text class="tk" x="636.0" y="76.8">100</text><text class="dg" x="664.1" y="65.9">o</text><text class="tk" x="673.2" y="76.8">W</text>
<text class="tk" x="705.2" y="76.8">90</text><text class="dg" x="724.1" y="65.9">o</text><text class="tk" x="734.3" y="76.8">W</text>
<text class="tk" x="769.0" y="76.8">80</text><text class="dg" x="789.3" y="65.9">o</text><text class="tk" x="798.7" y="76.8">W</text>
<text class="tk" x="832.4" y="76.8">70</text><text class="dg" x="850.9" y="65.9">o</text><text class="tk" x="861.5" y="76.8">W</text>
<text class="tk" x="566.9" y="112.7" textLength="18.1" lengthAdjust="spacingAndGlyphs">48</text><text class="dg" x="586.6" y="101.3">o</text><text class="tk" x="596.3" y="112.7">N</text>
<text class="tk" x="566.9" y="130.8" textLength="18.1" lengthAdjust="spacingAndGlyphs">46</text><text class="dg" x="586.6" y="119.4">o</text><text class="tk" x="596.3" y="130.8">N</text>
<text class="tk" x="566.9" y="147.6" textLength="18.1" lengthAdjust="spacingAndGlyphs">44</text><text class="dg" x="586.6" y="136.2">o</text><text class="tk" x="596.3" y="147.6">N</text>
<text class="tk" x="566.9" y="166.6" textLength="18.1" lengthAdjust="spacingAndGlyphs">42</text><text class="dg" x="586.6" y="155.2">o</text><text class="tk" x="596.3" y="166.6">N</text>
<text class="tk" x="566.9" y="182.8" textLength="18.1" lengthAdjust="spacingAndGlyphs">40</text><text class="dg" x="586.6" y="171.4">o</text><text class="tk" x="596.3" y="182.8">N</text>
<text class="tk" x="566.9" y="197.8" textLength="18.1" lengthAdjust="spacingAndGlyphs">38</text><text class="dg" x="586.6" y="186.4">o</text><text class="tk" x="596.3" y="197.8">N</text>
<text class="tk" x="566.9" y="214.5" textLength="18.1" lengthAdjust="spacingAndGlyphs">36</text><text class="dg" x="586.6" y="203.1">o</text><text class="tk" x="596.3" y="214.5">N</text>
<text class="tk" x="566.9" y="228.3" textLength="18.1" lengthAdjust="spacingAndGlyphs">34</text><text class="dg" x="586.6" y="216.9">o</text><text class="tk" x="596.3" y="228.3">N</text>
<text class="tk" x="566.9" y="245.8" textLength="18.1" lengthAdjust="spacingAndGlyphs">32</text><text class="dg" x="586.6" y="234.4">o</text><text class="tk" x="596.3" y="245.8">N</text>
<text class="tk" x="566.9" y="259.8" textLength="18.1" lengthAdjust="spacingAndGlyphs">30</text><text class="dg" x="586.6" y="248.4">o</text><text class="tk" x="596.3" y="259.8">N</text>
<text class="tk" x="566.9" y="273.0" textLength="18.1" lengthAdjust="spacingAndGlyphs">28</text><text class="dg" x="586.6" y="261.6">o</text><text class="tk" x="596.3" y="273.0">N</text>
<text class="tk" x="566.9" y="287.7" textLength="18.1" lengthAdjust="spacingAndGlyphs">26</text><text class="dg" x="586.6" y="276.3">o</text><text class="tk" x="596.3" y="287.7">N</text>
<text class="tk" x="566.9" y="301.8" textLength="18.1" lengthAdjust="spacingAndGlyphs">24</text><text class="dg" x="586.6" y="290.4">o</text><text class="tk" x="596.3" y="301.8">N</text>
<text class="tk" x="566.9" y="314.7" textLength="18.1" lengthAdjust="spacingAndGlyphs">22</text><text class="dg" x="586.6" y="303.3">o</text><text class="tk" x="596.3" y="314.7">N</text>
<rect x="862.5" y="93.5" width="23" height="218.6" fill="url(#jet)" stroke="#262626" stroke-width="1"/>
<path d="M885.5 202.8h-2.7" stroke="#262626" stroke-width="1"/>
<text class="cb" x="893.6" y="100.8">100</text><text class="cb" x="894.2" y="210.3">50</text><text class="cb" x="894.0" y="319.6">0</text>
<text class="xl" x="560.6" y="340.9">SAT 200 hPa RH (Percent)</text>
<g transform="matrix(1.00427 0 0 1.00939 841.165 -1.906)">
<g><path d="M195 96L211 95.6L216.5 95L222 96.2L225.3 99.6L199.2 156L196.5 156.6L194.6 155L194.6 96.5Z" fill="url(#b3)" stroke="url(#b3)" stroke-width="1.6" stroke-linejoin="round"/>
<circle cx="198.4" cy="97.3" r="2.8" fill="url(#b3)"/>
<circle cx="204.2" cy="97.3" r="2.8" fill="url(#b3)"/>
<circle cx="210" cy="97.5" r="2.8" fill="url(#b3)"/>
<circle cx="218.5" cy="96.4" r="3.1" fill="url(#b3)"/>
<circle cx="223.4" cy="100.4" r="3.1" fill="url(#b3)"/>
<circle cx="196.2" cy="98.6" r="2.8" fill="url(#b3)"/>
<circle cx="195.9" cy="103.4" r="3.7" fill="url(#b3)"/>
<circle cx="195.6" cy="111.2" r="2.7" fill="url(#b3)"/>
<circle cx="195.6" cy="116.3" r="2.8" fill="url(#b3)"/>
<circle cx="195.6" cy="120.8" r="2.3" fill="url(#b3)"/>
<circle cx="195.8" cy="125.5" r="3.3" fill="url(#b3)"/>
<circle cx="195.7" cy="142.3" r="3.0" fill="url(#b3)"/>
<circle cx="195.6" cy="148.3" r="2.6" fill="url(#b3)"/>
<circle cx="196.3" cy="154.0" r="3.3" fill="url(#b3)"/></g>
<path clip-path="url(#clipbox)" d="M402.2 170.4L403.6 165.7L406.9 163.9L416.7 164.3L420.4 160.6L425.1 162.5L429.3 160.6L429.3 164.3L425.1 166.7L419.5 167.6L414.3 170.9L413.4 173.2L412.0 170.4L405.5 172.7ZM423.5 158.0L429.3 157.5L429.3 161.5L424.5 161.5ZM381.4 180.7L389.3 179.3L394.3 177.4L396.3 177.5L399.6 182.1L398.7 189.6L395.4 196.1L391.7 199.9L394.5 208.0L385.1 208.0L386.1 199.9L379.1 197.5L384.7 196.1L380.5 188.7L383.7 184.0ZM429.5 115.5L429.5 126.0L426.0 125.5L427.4 120.4ZM299.0 252.0L301.3 249.7L307.4 250.1L309.3 254.3L310.7 259.0L312.1 264.6L308.3 261.8L305.1 262.3L299.5 263.2L298.5 260.4L294.3 259.5L288.3 256.2L287.3 253.4L292.0 253.9L296.7 256.7L299.0 255.7ZM386.1 195.0L396.8 195.0L395.4 197.8L392.1 200.1L394.0 205.3L396.3 208.5L393.5 209.9L396.8 215.5L394.5 213.7L391.7 213.7L389.8 218.3L387.0 219.7L382.3 219.3L379.5 223.0L379.5 225.3L374.9 226.3L373.0 223.0L376.7 222.1L377.7 216.9L379.1 220.2L381.9 217.4L382.3 210.9L379.1 208.1L384.7 210.4L385.6 209.9L385.1 202.5L383.3 198.7L378.6 197.3L384.7 196.9ZM358.0 231.7L362.7 233.5L369.7 231.2L362.7 237.7L359.9 242.4L358.0 246.1L358.0 248.9L352.4 248.9L352.4 247.1L355.2 242.4L356.1 238.7L354.3 236.3L357.1 235.4ZM362.9 286.3L364.8 285.8L366.9 295.9Z" fill="#000" stroke="#000" stroke-width="0.5" stroke-linejoin="round"/>
<path clip-path="url(#clipbox)" d="M196.5 96.7L270.8 96.7M196.5 96.7L196.5 238.8M215.0 96.7L215.0 168.1M196.5 133.6L215.0 133.6M215.0 125.2L262.0 125.2M215.0 151.1L249.8 151.1L252.3 152.4L253.9 152.3L256.7 152.4L259.2 153.2L261.1 154.6L262.7 155.5M196.5 168.1L227.5 168.1M227.5 168.1L227.5 200.6M227.5 176.4L269.8 176.4M196.5 200.6L274.2 200.6M221.6 200.6L221.6 204.5M221.3 204.5L240.4 204.5M240.4 204.5L240.4 219.5M221.3 204.5L221.2 238.8M221.2 238.8L196.5 238.8M257.8 96.7L258.6 100.5L258.3 104.3L260.2 109.9L260.3 115.5L260.8 119.2L262.0 121.9L262.0 125.2L260.2 128.1L261.2 130.0L262.7 130.9L262.7 146.8M262.7 146.8L295.5 146.8M262.7 146.8L261.7 148.6L262.2 150.7L261.6 153.3L262.7 155.5M262.7 155.5L263.3 158.0L264.7 160.1L264.9 163.1L266.0 165.6L266.4 168.1L266.4 170.2L267.0 171.6L268.3 173.9L269.8 176.4L271.5 177.5L272.2 178.4L271.2 180.1L272.4 181.7L274.2 183.7M267.0 171.6L292.3 171.4L293.8 173.1L294.3 173.3M274.2 183.7L274.2 204.5M274.2 204.5L275.4 213.1L275.0 226.5M274.2 204.5L302.2 204.5L302.7 206.1L300.8 208.4L305.1 208.4M240.4 219.5L242.3 220.7L244.2 220.6L245.4 221.9L249.2 222.6L252.3 222.8L253.3 224.7L256.1 224.5L258.0 225.7L259.9 224.2L261.7 225.1L263.3 226.1L266.8 224.8L269.9 224.7L272.4 225.7L275.0 226.5L277.8 227.2M277.8 227.2L277.8 238.9L279.0 240.7L280.6 244.7L279.8 249.1L279.9 252.8L279.0 255.7M277.8 231.2L295.8 231.3M299.2 155.4L300.7 157.1L302.1 158.8L302.1 161.4L301.0 163.2L297.2 164.6L296.3 166.3L297.2 168.5L296.3 170.6L294.3 173.3L293.8 176.4L294.5 178.4L296.6 180.9L298.7 182.9L298.8 184.6L300.3 185.2L302.2 186.0L301.9 187.8L301.0 190.6L302.5 192.6L304.4 193.8L306.3 196.2L306.3 198.2L307.6 199.8L308.6 200.7L308.2 203.7L306.3 204.5L306.0 206.4L305.1 208.4L303.8 211.5L302.5 214.6L301.3 216.2L299.7 219.2L297.5 222.3L296.3 226.1L295.6 228.3L295.8 231.3L296.6 234.3L297.5 236.6L295.6 239.5L293.8 243.2L292.8 246.2M292.8 246.2L304.9 246.2L304.1 248.4L305.4 250.6L306.1 252.2M299.2 155.4L317.0 155.5M318.7 162.1L318.7 181.7L318.1 183.7L318.9 186.6L317.3 189.0L316.0 191.0L315.6 192.6L315.1 194.2M362.7 171.1L361.9 171.9L362.2 173.9L361.4 176.4L360.5 178.9L358.4 181.3L356.2 182.1L355.0 184.6L353.1 185.0L352.1 187.8L349.6 189.2L348.1 186.8L345.2 187.8L342.7 187.4L339.6 186.2L337.7 183.7L335.7 183.7L335.8 186.2L333.3 187.0L331.7 188.6L329.8 190.4L328.6 192.6L326.4 191.4L325.1 193.3L322.0 193.3L318.9 193.0L316.4 193.6L315.1 194.2L315.4 196.6L312.9 199.8L310.1 199.0L308.6 200.7M335.7 183.7L335.8 162.2M306.3 204.5L315.3 204.5L315.3 203.1L325.1 203.3L342.8 203.7L355.4 203.8L365.9 204.1L391.9 204.1M342.8 203.7L346.5 201.7L349.0 199.8L351.5 198.2L353.6 196.3L351.5 195.0L349.6 192.6L349.6 189.2M355.4 203.8L354.0 206.1L352.8 207.6L349.6 208.4L347.7 208.8L345.9 210.7L342.7 211.7L340.8 213.0L338.9 214.6L338.8 216.2M301.3 216.2L314.5 216.1L330.8 216.2L338.8 216.2L346.4 216.1M346.4 216.1L350.9 214.6L359.3 215.0L359.5 215.7L360.1 215.4L361.0 217.5L368.0 217.7L375.0 224.8M314.5 216.1L315.1 216.9L312.8 239.5L313.2 251.0M330.8 216.2L333.4 232.3L334.7 235.8L334.1 238.8L333.8 241.8L334.6 246.2M334.6 246.2L318.2 246.2L319.5 248.4L318.9 251.5M334.6 246.2L335.4 248.4L352.1 249.3L353.1 250.8L353.4 248.4L355.3 248.0L356.8 248.4M346.4 216.1L344.9 218.4L347.7 220.3L349.6 223.8L352.1 226.8L353.7 227.9L356.5 231.3L357.2 234.3L358.7 237.3L360.3 238.6M353.6 196.3L355.4 199.0L358.4 198.6L364.1 196.6L364.4 194.6L367.2 190.2L368.1 187.8L371.0 188.6L373.0 186.2L376.3 181.3L379.6 183.5L380.3 182.0L379.1 179.7L377.2 178.9L375.7 180.1L373.5 179.5L372.2 180.9L369.1 182.9L369.2 178.7M362.7 178.0L392.4 178.0L393.6 177.5M362.7 178.7L362.7 159.9M392.4 178.7L392.4 189.0L397.0 189.0M380.3 182.0L381.6 183.7L384.0 185.1L384.5 187.0L382.9 189.4L384.8 190.2L387.3 191.4L389.2 193.0M270.8 96.7M287.9 118.2L287.2 123.3L284.8 126.0L285.5 129.5L284.7 134.5L286.5 137.0L290.0 139.3L294.0 143.0L295.0 146.5L297.5 152.0L301.0 155.5M298.7 118.2L301.9 121.0L308.9 123.6L314.7 126.0L316.7 129.3L316.9 133.0M316.9 133.0L315.3 137.2L316.2 135.0L318.2 132.0L318.7 136.7L317.3 142.0L316.0 147.3L316.0 152.7L317.7 159.3L319.3 163.3M320.0 162.6L335.3 161.3L348.0 162.0M396.6 133.3L419.0 133.3M407.6 133.3L407.6 152.3L406.9 159.3L405.9 163.0L404.0 165.5M419.0 133.3L418.5 137.8L414.8 141.0L412.9 146.7L412.0 153.3M420.4 131.0L421.2 136.0L422.5 143.0L423.2 152.3M419.0 132.5L423.7 128.3L426.0 124.6L427.4 120.4L429.5 115.5M429.2 115.5L429.2 160.0M407.6 153.4L426.0 153.4M406.9 159.0L420.9 159.0L423.7 162.0M420.9 159.0L421.0 163.0M372.8 152.7L372.8 159.4L395.7 159.4L397.5 162.3L399.9 165.7L396.1 167.6L395.7 171.3L398.0 174.6L396.1 176.8L393.3 176.5M399.9 165.7L403.5 164.0M310.0 249.5L327.7 250.9M313.0 248.3L329.0 249.2M309.8 199.5L306.5 205.0L303.8 210.0L301.2 215.0M275.8 255.2L272.2 256.3L274.5 254.2M262.8 262.4L258.3 267.3L256.3 271.0L258.0 276.0M349.2 267.0L351.8 273.0L355.6 279.2L358.8 284.3" fill="none" stroke="#000" stroke-width="2.8" stroke-linejoin="round" stroke-linecap="round"/>
<path clip-path="url(#clipbox)" d="M393.9 179.7L394.8 182.1L396.7 186.2L397.0 189.0L395.8 192.4L393.6 196.2L391.4 199.6L391.0 196.6L392.3 193.0L391.7 191.0L389.2 188.6L389.8 186.2L390.4 184.6L391.0 181.3L390.4 180.1L388.5 182.9L387.9 185.4L388.5 190.2L389.2 192.6L387.3 191.4L389.2 193.0L389.5 193.4L386.7 193.0L389.2 196.2L386.0 196.6L389.2 198.6L385.4 199.0L389.2 200.6L391.0 201.1L391.9 204.1M391.9 204.1L394.2 210.7L394.0 214.2L391.0 215.6L387.9 218.4L384.8 218.7L380.4 223.0L378.8 224.9L375.0 224.8L372.2 227.6L371.0 229.8L368.5 231.3L366.6 233.6L363.4 235.5L361.5 237.3L360.3 238.6L358.4 242.5L357.2 246.2L356.8 248.4M391.9 204.1L391.0 206.8L387.3 208.4L391.7 208.8L392.3 211.5L387.3 212.3L389.8 213.8L385.4 215.4L387.9 216.5L387.9 218.4M332.0 255.3L330.2 252.4L325.1 250.7L320.7 251.1L318.9 251.5L315.7 251.8L315.7 248.8L315.1 251.0L313.2 251.0L309.4 250.6L306.9 251.3L306.1 252.2L304.4 253.1L306.9 255.0L307.6 258.2L309.4 259.7L306.9 261.1L303.8 258.6L301.9 260.0L297.5 260.4L295.0 258.6L291.9 257.1L288.7 256.8L283.1 255.2L279.0 255.7M255.8 282.8L251.7 281.7L246.0 279.2L243.5 271.5L238.5 265.8L237.3 262.9L234.8 258.2L231.6 255.2L226.0 254.4L223.5 255.7L220.6 260.9L217.8 259.7L212.8 256.8L210.9 252.8L209.0 248.8L205.2 245.6L200.2 240.7L196.5 238.8M273.0 96.8L273.2 98.5L278.0 101.0L284.0 100.5L287.0 103.5L289.5 103.2L294.0 106.3L297.3 103.9L300.5 105.0L306.6 107.0L301.0 108.0L295.4 112.1L287.9 118.2M287.9 118.2L293.5 116.3L296.3 115.4L298.7 117.6L301.9 118.2L306.0 116.0L311.3 112.8L311.2 119.8L313.5 115.2L317.3 115.6L320.4 119.8L325.0 120.2L328.5 117.8L336.2 116.4L334.0 119.4L339.3 119.9L342.0 124.6L337.5 125.8M318.0 131.5L320.0 128.0L322.0 124.0L323.3 127.3L326.7 125.3L331.3 123.6L336.0 125.6M336.0 125.6L334.7 126.3L334.0 129.3L329.3 132.0L326.7 134.7L324.7 141.3L325.3 148.0L326.7 154.0L324.0 160.7L319.3 163.3M334.0 129.3L331.6 133.5L330.6 136.5M337.3 126.3L344.0 130.0L346.0 134.0L345.3 139.3L346.0 141.0L342.5 143.5L342.0 146.0L343.5 144.0L346.3 141.3L349.3 142.7L351.0 150.0L348.7 154.0L346.0 158.0L348.0 162.0M348.0 162.0L353.3 163.4L357.0 161.5L361.3 159.3L366.7 156.7L372.7 153.3L371.3 148.7L375.3 147.7L380.0 148.5L385.3 149.7L389.3 146.0L388.7 141.3L393.3 136.7L400.0 132.7M400.0 132.7L396.6 133.3L392.0 137.2L388.7 141.5L390.5 145.3M426.0 124.6L427.8 135.0L427.4 143.0L424.1 148.0L422.7 151.8L426.0 153.8M426.0 153.8L424.2 156.5L425.0 158.2L429.3 159.3M404.0 165.5L408.0 162.3L417.0 161.6L421.0 163.0M401.7 168.0L404.5 170.4L404.5 175.5L402.7 180.2L399.9 183.0L398.0 180.2L396.1 176.8M291.5 236.4L299.4 236.2M297.3 209.7L300.6 213.6M379.5 224.5L376.7 225.0L372.0 227.2L367.3 231.7L362.7 234.0L358.9 235.4M369.0 228.2L363.5 225.8M369.0 229.8L367.5 226.5M366.5 232.0L364.5 228.5M279.3 253.0L276.5 254.0L274.3 255.3L271.7 257.8L267.0 261.3L262.3 261.1L259.5 264.3L254.9 269.0L254.9 271.8L257.2 275.5L257.7 281.6L255.8 282.5L249.3 280.2M262.3 261.1L261.9 255.0M254.9 271.8L247.0 271.2M252.0 271.8L247.5 273.2M327.7 250.9L329.5 252.0L330.9 254.5L333.0 255.7L335.3 255.6L336.8 253.2L338.2 252.5L341.8 252.4L345.5 256.0L349.1 259.6L349.8 264.0L348.0 269.1L350.5 273.5L354.2 279.3L357.8 285.1L360.7 287.6L363.6 286.5M356.4 248.0L358.5 254.5L362.2 262.5L365.1 270.5L366.5 276.4L365.5 282.2L363.6 286.5" fill="none" stroke="#000" stroke-width="2.4" stroke-linejoin="round" stroke-linecap="round"/>
<circle cx="389.3" cy="180.5" r="0.55" fill="#fff"/><circle cx="399.4" cy="182.4" r="0.55" fill="#fff"/><circle cx="384.9" cy="197.3" r="0.55" fill="#fff"/><circle cx="391.7" cy="194.3" r="0.55" fill="#fff"/><circle cx="389.3" cy="202.2" r="0.55" fill="#fff"/><circle cx="388.4" cy="206.4" r="0.55" fill="#fff"/><circle cx="389.3" cy="202.5" r="0.55" fill="#fff"/><circle cx="382.6" cy="211.3" r="0.55" fill="#fff"/><circle cx="383.5" cy="216.3" r="0.55" fill="#fff"/><circle cx="301.8" cy="254.3" r="0.55" fill="#fff"/><circle cx="304.4" cy="255.5" r="0.55" fill="#fff"/><circle cx="305.1" cy="260.4" r="0.55" fill="#fff"/><circle cx="387.5" cy="186" r="0.55" fill="#fff"/><circle cx="393" cy="189.5" r="0.55" fill="#fff"/>
</g>
<rect x="1037.5" y="95.5" width="235" height="215" fill="none" stroke="#262626" stroke-width="1"/>
<text class="tk" x="1058.6" y="74.8">100</text><text class="dg" x="1086.7" y="63.9">o</text><text class="tk" x="1095.8" y="74.8">W</text>
<text class="tk" x="1127.8" y="74.8">90</text><text class="dg" x="1146.7" y="63.9">o</text><text class="tk" x="1156.9" y="74.8">W</text>
<text class="tk" x="1190.4" y="74.8">80</text><text class="dg" x="1210.7" y="63.9">o</text><text class="tk" x="1220.1" y="74.8">W</text>
<text class="tk" x="1255.0" y="74.8">70</text><text class="dg" x="1273.5" y="63.9">o</text><text class="tk" x="1284.1" y="74.8">W</text>
<text class="tk" x="987.9" y="112.9" textLength="18.1" lengthAdjust="spacingAndGlyphs">48</text><text class="dg" x="1007.6" y="101.5">o</text><text class="tk" x="1017.3" y="112.9">N</text>
<text class="tk" x="987.9" y="131.0" textLength="18.1" lengthAdjust="spacingAndGlyphs">46</text><text class="dg" x="1007.6" y="119.6">o</text><text class="tk" x="1017.3" y="131.0">N</text>
<text class="tk" x="987.9" y="147.7" textLength="18.1" lengthAdjust="spacingAndGlyphs">44</text><text class="dg" x="1007.6" y="136.3">o</text><text class="tk" x="1017.3" y="147.7">N</text>
<text class="tk" x="987.9" y="166.8" textLength="18.1" lengthAdjust="spacingAndGlyphs">42</text><text class="dg" x="1007.6" y="155.4">o</text><text class="tk" x="1017.3" y="166.8">N</text>
<text class="tk" x="987.9" y="182.8" textLength="18.1" lengthAdjust="spacingAndGlyphs">40</text><text class="dg" x="1007.6" y="171.4">o</text><text class="tk" x="1017.3" y="182.8">N</text>
<text class="tk" x="987.9" y="197.7" textLength="18.1" lengthAdjust="spacingAndGlyphs">38</text><text class="dg" x="1007.6" y="186.3">o</text><text class="tk" x="1017.3" y="197.7">N</text>
<text class="tk" x="987.9" y="214.4" textLength="18.1" lengthAdjust="spacingAndGlyphs">36</text><text class="dg" x="1007.6" y="203.0">o</text><text class="tk" x="1017.3" y="214.4">N</text>
<text class="tk" x="987.9" y="228.5" textLength="18.1" lengthAdjust="spacingAndGlyphs">34</text><text class="dg" x="1007.6" y="217.1">o</text><text class="tk" x="1017.3" y="228.5">N</text>
<text class="tk" x="987.9" y="245.7" textLength="18.1" lengthAdjust="spacingAndGlyphs">32</text><text class="dg" x="1007.6" y="234.3">o</text><text class="tk" x="1017.3" y="245.7">N</text>
<text class="tk" x="987.9" y="259.8" textLength="18.1" lengthAdjust="spacingAndGlyphs">30</text><text class="dg" x="1007.6" y="248.4">o</text><text class="tk" x="1017.3" y="259.8">N</text>
<text class="tk" x="987.9" y="274.8" textLength="18.1" lengthAdjust="spacingAndGlyphs">28</text><text class="dg" x="1007.6" y="263.4">o</text><text class="tk" x="1017.3" y="274.8">N</text>
<text class="tk" x="987.9" y="289.8" textLength="18.1" lengthAdjust="spacingAndGlyphs">26</text><text class="dg" x="1007.6" y="278.4">o</text><text class="tk" x="1017.3" y="289.8">N</text>
<text class="tk" x="987.9" y="301.6" textLength="18.1" lengthAdjust="spacingAndGlyphs">24</text><text class="dg" x="1007.6" y="290.2">o</text><text class="tk" x="1017.3" y="301.6">N</text>
<text class="tk" x="987.9" y="316.7" textLength="18.1" lengthAdjust="spacingAndGlyphs">22</text><text class="dg" x="1007.6" y="305.3">o</text><text class="tk" x="1017.3" y="316.7">N</text>
<rect x="1285.5" y="93.5" width="23" height="218.6" fill="url(#jet)" stroke="#262626" stroke-width="1"/>
<path d="M1308.5 202.8h-2.7" stroke="#262626" stroke-width="1"/>
<text class="cb" x="1316.6" y="100.8">100</text><text class="cb" x="1317.2" y="210.3">50</text><text class="cb" x="1317.0" y="319.6">0</text>
<text class="xl" x="982.6" y="341.8">SAT 250 hPa RH (Percent)</text>
<g transform="matrix(1.00000 0 0 1.00000 0.000 390.000)">
<g><path d="M195 96L211 95.6L216.5 95L222 96.2L225.3 99.6L199.2 156L196.5 156.6L194.6 155L194.6 96.5Z" fill="url(#b4)" stroke="url(#b4)" stroke-width="1.6" stroke-linejoin="round"/>
<circle cx="198.4" cy="97.3" r="2.8" fill="url(#b4)"/>
<circle cx="204.2" cy="97.3" r="2.8" fill="url(#b4)"/>
<circle cx="210" cy="97.5" r="2.8" fill="url(#b4)"/>
<circle cx="218.5" cy="96.4" r="3.1" fill="url(#b4)"/>
<circle cx="223.4" cy="100.4" r="3.1" fill="url(#b4)"/>
<circle cx="196.2" cy="98.6" r="2.8" fill="url(#b4)"/>
<circle cx="195.9" cy="103.4" r="3.7" fill="url(#b4)"/>
<circle cx="195.6" cy="111.2" r="2.7" fill="url(#b4)"/>
<circle cx="195.6" cy="116.3" r="2.8" fill="url(#b4)"/>
<circle cx="195.6" cy="120.8" r="2.3" fill="url(#b4)"/>
<circle cx="195.8" cy="125.5" r="3.3" fill="url(#b4)"/>
<circle cx="195.7" cy="142.3" r="3.0" fill="url(#b4)"/>
<circle cx="195.6" cy="148.3" r="2.6" fill="url(#b4)"/>
<circle cx="196.3" cy="154.0" r="3.3" fill="url(#b4)"/></g>
<path clip-path="url(#clipbox)" d="M402.2 170.4L403.6 165.7L406.9 163.9L416.7 164.3L420.4 160.6L425.1 162.5L429.3 160.6L429.3 164.3L425.1 166.7L419.5 167.6L414.3 170.9L413.4 173.2L412.0 170.4L405.5 172.7ZM423.5 158.0L429.3 157.5L429.3 161.5L424.5 161.5ZM381.4 180.7L389.3 179.3L394.3 177.4L396.3 177.5L399.6 182.1L398.7 189.6L395.4 196.1L391.7 199.9L394.5 208.0L385.1 208.0L386.1 199.9L379.1 197.5L384.7 196.1L380.5 188.7L383.7 184.0ZM429.5 115.5L429.5 126.0L426.0 125.5L427.4 120.4ZM299.0 252.0L301.3 249.7L307.4 250.1L309.3 254.3L310.7 259.0L312.1 264.6L308.3 261.8L305.1 262.3L299.5 263.2L298.5 260.4L294.3 259.5L288.3 256.2L287.3 253.4L292.0 253.9L296.7 256.7L299.0 255.7ZM386.1 195.0L396.8 195.0L395.4 197.8L392.1 200.1L394.0 205.3L396.3 208.5L393.5 209.9L396.8 215.5L394.5 213.7L391.7 213.7L389.8 218.3L387.0 219.7L382.3 219.3L379.5 223.0L379.5 225.3L374.9 226.3L373.0 223.0L376.7 222.1L377.7 216.9L379.1 220.2L381.9 217.4L382.3 210.9L379.1 208.1L384.7 210.4L385.6 209.9L385.1 202.5L383.3 198.7L378.6 197.3L384.7 196.9ZM358.0 231.7L362.7 233.5L369.7 231.2L362.7 237.7L359.9 242.4L358.0 246.1L358.0 248.9L352.4 248.9L352.4 247.1L355.2 242.4L356.1 238.7L354.3 236.3L357.1 235.4ZM362.9 286.3L364.8 285.8L366.9 295.9Z" fill="#000" stroke="#000" stroke-width="0.5" stroke-linejoin="round"/>
<path clip-path="url(#clipbox)" d="M196.5 96.7L270.8 96.7M196.5 96.7L196.5 238.8M215.0 96.7L215.0 168.1M196.5 133.6L215.0 133.6M215.0 125.2L262.0 125.2M215.0 151.1L249.8 151.1L252.3 152.4L253.9 152.3L256.7 152.4L259.2 153.2L261.1 154.6L262.7 155.5M196.5 168.1L227.5 168.1M227.5 168.1L227.5 200.6M227.5 176.4L269.8 176.4M196.5 200.6L274.2 200.6M221.6 200.6L221.6 204.5M221.3 204.5L240.4 204.5M240.4 204.5L240.4 219.5M221.3 204.5L221.2 238.8M221.2 238.8L196.5 238.8M257.8 96.7L258.6 100.5L258.3 104.3L260.2 109.9L260.3 115.5L260.8 119.2L262.0 121.9L262.0 125.2L260.2 128.1L261.2 130.0L262.7 130.9L262.7 146.8M262.7 146.8L295.5 146.8M262.7 146.8L261.7 148.6L262.2 150.7L261.6 153.3L262.7 155.5M262.7 155.5L263.3 158.0L264.7 160.1L264.9 163.1L266.0 165.6L266.4 168.1L266.4 170.2L267.0 171.6L268.3 173.9L269.8 176.4L271.5 177.5L272.2 178.4L271.2 180.1L272.4 181.7L274.2 183.7M267.0 171.6L292.3 171.4L293.8 173.1L294.3 173.3M274.2 183.7L274.2 204.5M274.2 204.5L275.4 213.1L275.0 226.5M274.2 204.5L302.2 204.5L302.7 206.1L300.8 208.4L305.1 208.4M240.4 219.5L242.3 220.7L244.2 220.6L245.4 221.9L249.2 222.6L252.3 222.8L253.3 224.7L256.1 224.5L258.0 225.7L259.9 224.2L261.7 225.1L263.3 226.1L266.8 224.8L269.9 224.7L272.4 225.7L275.0 226.5L277.8 227.2M277.8 227.2L277.8 238.9L279.0 240.7L280.6 244.7L279.8 249.1L279.9 252.8L279.0 255.7M277.8 231.2L295.8 231.3M299.2 155.4L300.7 157.1L302.1 158.8L302.1 161.4L301.0 163.2L297.2 164.6L296.3 166.3L297.2 168.5L296.3 170.6L294.3 173.3L293.8 176.4L294.5 178.4L296.6 180.9L298.7 182.9L298.8 184.6L300.3 185.2L302.2 186.0L301.9 187.8L301.0 190.6L302.5 192.6L304.4 193.8L306.3 196.2L306.3 198.2L307.6 199.8L308.6 200.7L308.2 203.7L306.3 204.5L306.0 206.4L305.1 208.4L303.8 211.5L302.5 214.6L301.3 216.2L299.7 219.2L297.5 222.3L296.3 226.1L295.6 228.3L295.8 231.3L296.6 234.3L297.5 236.6L295.6 239.5L293.8 243.2L292.8 246.2M292.8 246.2L304.9 246.2L304.1 248.4L305.4 250.6L306.1 252.2M299.2 155.4L317.0 155.5M318.7 162.1L318.7 181.7L318.1 183.7L318.9 186.6L317.3 189.0L316.0 191.0L315.6 192.6L315.1 194.2M362.7 171.1L361.9 171.9L362.2 173.9L361.4 176.4L360.5 178.9L358.4 181.3L356.2 182.1L355.0 184.6L353.1 185.0L352.1 187.8L349.6 189.2L348.1 186.8L345.2 187.8L342.7 187.4L339.6 186.2L337.7 183.7L335.7 183.7L335.8 186.2L333.3 187.0L331.7 188.6L329.8 190.4L328.6 192.6L326.4 191.4L325.1 193.3L322.0 193.3L318.9 193.0L316.4 193.6L315.1 194.2L315.4 196.6L312.9 199.8L310.1 199.0L308.6 200.7M335.7 183.7L335.8 162.2M306.3 204.5L315.3 204.5L315.3 203.1L325.1 203.3L342.8 203.7L355.4 203.8L365.9 204.1L391.9 204.1M342.8 203.7L346.5 201.7L349.0 199.8L351.5 198.2L353.6 196.3L351.5 195.0L349.6 192.6L349.6 189.2M355.4 203.8L354.0 206.1L352.8 207.6L349.6 208.4L347.7 208.8L345.9 210.7L342.7 211.7L340.8 213.0L338.9 214.6L338.8 216.2M301.3 216.2L314.5 216.1L330.8 216.2L338.8 216.2L346.4 216.1M346.4 216.1L350.9 214.6L359.3 215.0L359.5 215.7L360.1 215.4L361.0 217.5L368.0 217.7L375.0 224.8M314.5 216.1L315.1 216.9L312.8 239.5L313.2 251.0M330.8 216.2L333.4 232.3L334.7 235.8L334.1 238.8L333.8 241.8L334.6 246.2M334.6 246.2L318.2 246.2L319.5 248.4L318.9 251.5M334.6 246.2L335.4 248.4L352.1 249.3L353.1 250.8L353.4 248.4L355.3 248.0L356.8 248.4M346.4 216.1L344.9 218.4L347.7 220.3L349.6 223.8L352.1 226.8L353.7 227.9L356.5 231.3L357.2 234.3L358.7 237.3L360.3 238.6M353.6 196.3L355.4 199.0L358.4 198.6L364.1 196.6L364.4 194.6L367.2 190.2L368.1 187.8L371.0 188.6L373.0 186.2L376.3 181.3L379.6 183.5L380.3 182.0L379.1 179.7L377.2 178.9L375.7 180.1L373.5 179.5L372.2 180.9L369.1 182.9L369.2 178.7M362.7 178.0L392.4 178.0L393.6 177.5M362.7 178.7L362.7 159.9M392.4 178.7L392.4 189.0L397.0 189.0M380.3 182.0L381.6 183.7L384.0 185.1L384.5 187.0L382.9 189.4L384.8 190.2L387.3 191.4L389.2 193.0M270.8 96.7M287.9 118.2L287.2 123.3L284.8 126.0L285.5 129.5L284.7 134.5L286.5 137.0L290.0 139.3L294.0 143.0L295.0 146.5L297.5 152.0L301.0 155.5M298.7 118.2L301.9 121.0L308.9 123.6L314.7 126.0L316.7 129.3L316.9 133.0M316.9 133.0L315.3 137.2L316.2 135.0L318.2 132.0L318.7 136.7L317.3 142.0L316.0 147.3L316.0 152.7L317.7 159.3L319.3 163.3M320.0 162.6L335.3 161.3L348.0 162.0M396.6 133.3L419.0 133.3M407.6 133.3L407.6 152.3L406.9 159.3L405.9 163.0L404.0 165.5M419.0 133.3L418.5 137.8L414.8 141.0L412.9 146.7L412.0 153.3M420.4 131.0L421.2 136.0L422.5 143.0L423.2 152.3M419.0 132.5L423.7 128.3L426.0 124.6L427.4 120.4L429.5 115.5M429.2 115.5L429.2 160.0M407.6 153.4L426.0 153.4M406.9 159.0L420.9 159.0L423.7 162.0M420.9 159.0L421.0 163.0M372.8 152.7L372.8 159.4L395.7 159.4L397.5 162.3L399.9 165.7L396.1 167.6L395.7 171.3L398.0 174.6L396.1 176.8L393.3 176.5M399.9 165.7L403.5 164.0M310.0 249.5L327.7 250.9M313.0 248.3L329.0 249.2M309.8 199.5L306.5 205.0L303.8 210.0L301.2 215.0M275.8 255.2L272.2 256.3L274.5 254.2M262.8 262.4L258.3 267.3L256.3 271.0L258.0 276.0M349.2 267.0L351.8 273.0L355.6 279.2L358.8 284.3" fill="none" stroke="#000" stroke-width="2.8" stroke-linejoin="round" stroke-linecap="round"/>
<path clip-path="url(#clipbox)" d="M393.9 179.7L394.8 182.1L396.7 186.2L397.0 189.0L395.8 192.4L393.6 196.2L391.4 199.6L391.0 196.6L392.3 193.0L391.7 191.0L389.2 188.6L389.8 186.2L390.4 184.6L391.0 181.3L390.4 180.1L388.5 182.9L387.9 185.4L388.5 190.2L389.2 192.6L387.3 191.4L389.2 193.0L389.5 193.4L386.7 193.0L389.2 196.2L386.0 196.6L389.2 198.6L385.4 199.0L389.2 200.6L391.0 201.1L391.9 204.1M391.9 204.1L394.2 210.7L394.0 214.2L391.0 215.6L387.9 218.4L384.8 218.7L380.4 223.0L378.8 224.9L375.0 224.8L372.2 227.6L371.0 229.8L368.5 231.3L366.6 233.6L363.4 235.5L361.5 237.3L360.3 238.6L358.4 242.5L357.2 246.2L356.8 248.4M391.9 204.1L391.0 206.8L387.3 208.4L391.7 208.8L392.3 211.5L387.3 212.3L389.8 213.8L385.4 215.4L387.9 216.5L387.9 218.4M332.0 255.3L330.2 252.4L325.1 250.7L320.7 251.1L318.9 251.5L315.7 251.8L315.7 248.8L315.1 251.0L313.2 251.0L309.4 250.6L306.9 251.3L306.1 252.2L304.4 253.1L306.9 255.0L307.6 258.2L309.4 259.7L306.9 261.1L303.8 258.6L301.9 260.0L297.5 260.4L295.0 258.6L291.9 257.1L288.7 256.8L283.1 255.2L279.0 255.7M255.8 282.8L251.7 281.7L246.0 279.2L243.5 271.5L238.5 265.8L237.3 262.9L234.8 258.2L231.6 255.2L226.0 254.4L223.5 255.7L220.6 260.9L217.8 259.7L212.8 256.8L210.9 252.8L209.0 248.8L205.2 245.6L200.2 240.7L196.5 238.8M273.0 96.8L273.2 98.5L278.0 101.0L284.0 100.5L287.0 103.5L289.5 103.2L294.0 106.3L297.3 103.9L300.5 105.0L306.6 107.0L301.0 108.0L295.4 112.1L287.9 118.2M287.9 118.2L293.5 116.3L296.3 115.4L298.7 117.6L301.9 118.2L306.0 116.0L311.3 112.8L311.2 119.8L313.5 115.2L317.3 115.6L320.4 119.8L325.0 120.2L328.5 117.8L336.2 116.4L334.0 119.4L339.3 119.9L342.0 124.6L337.5 125.8M318.0 131.5L320.0 128.0L322.0 124.0L323.3 127.3L326.7 125.3L331.3 123.6L336.0 125.6M336.0 125.6L334.7 126.3L334.0 129.3L329.3 132.0L326.7 134.7L324.7 141.3L325.3 148.0L326.7 154.0L324.0 160.7L319.3 163.3M334.0 129.3L331.6 133.5L330.6 136.5M337.3 126.3L344.0 130.0L346.0 134.0L345.3 139.3L346.0 141.0L342.5 143.5L342.0 146.0L343.5 144.0L346.3 141.3L349.3 142.7L351.0 150.0L348.7 154.0L346.0 158.0L348.0 162.0M348.0 162.0L353.3 163.4L357.0 161.5L361.3 159.3L366.7 156.7L372.7 153.3L371.3 148.7L375.3 147.7L380.0 148.5L385.3 149.7L389.3 146.0L388.7 141.3L393.3 136.7L400.0 132.7M400.0 132.7L396.6 133.3L392.0 137.2L388.7 141.5L390.5 145.3M426.0 124.6L427.8 135.0L427.4 143.0L424.1 148.0L422.7 151.8L426.0 153.8M426.0 153.8L424.2 156.5L425.0 158.2L429.3 159.3M404.0 165.5L408.0 162.3L417.0 161.6L421.0 163.0M401.7 168.0L404.5 170.4L404.5 175.5L402.7 180.2L399.9 183.0L398.0 180.2L396.1 176.8M291.5 236.4L299.4 236.2M297.3 209.7L300.6 213.6M379.5 224.5L376.7 225.0L372.0 227.2L367.3 231.7L362.7 234.0L358.9 235.4M369.0 228.2L363.5 225.8M369.0 229.8L367.5 226.5M366.5 232.0L364.5 228.5M279.3 253.0L276.5 254.0L274.3 255.3L271.7 257.8L267.0 261.3L262.3 261.1L259.5 264.3L254.9 269.0L254.9 271.8L257.2 275.5L257.7 281.6L255.8 282.5L249.3 280.2M262.3 261.1L261.9 255.0M254.9 271.8L247.0 271.2M252.0 271.8L247.5 273.2M327.7 250.9L329.5 252.0L330.9 254.5L333.0 255.7L335.3 255.6L336.8 253.2L338.2 252.5L341.8 252.4L345.5 256.0L349.1 259.6L349.8 264.0L348.0 269.1L350.5 273.5L354.2 279.3L357.8 285.1L360.7 287.6L363.6 286.5M356.4 248.0L358.5 254.5L362.2 262.5L365.1 270.5L366.5 276.4L365.5 282.2L363.6 286.5" fill="none" stroke="#000" stroke-width="2.4" stroke-linejoin="round" stroke-linecap="round"/>
<circle cx="389.3" cy="180.5" r="0.55" fill="#fff"/><circle cx="399.4" cy="182.4" r="0.55" fill="#fff"/><circle cx="384.9" cy="197.3" r="0.55" fill="#fff"/><circle cx="391.7" cy="194.3" r="0.55" fill="#fff"/><circle cx="389.3" cy="202.2" r="0.55" fill="#fff"/><circle cx="388.4" cy="206.4" r="0.55" fill="#fff"/><circle cx="389.3" cy="202.5" r="0.55" fill="#fff"/><circle cx="382.6" cy="211.3" r="0.55" fill="#fff"/><circle cx="383.5" cy="216.3" r="0.55" fill="#fff"/><circle cx="301.8" cy="254.3" r="0.55" fill="#fff"/><circle cx="304.4" cy="255.5" r="0.55" fill="#fff"/><circle cx="305.1" cy="260.4" r="0.55" fill="#fff"/><circle cx="387.5" cy="186" r="0.55" fill="#fff"/><circle cx="393" cy="189.5" r="0.55" fill="#fff"/>
</g>
<rect x="195.5" y="486.5" width="234" height="213" fill="none" stroke="#262626" stroke-width="1"/>
<text class="tk" x="215.0" y="466.8">100</text><text class="dg" x="243.1" y="455.9">o</text><text class="tk" x="252.2" y="466.8">W</text>
<text class="tk" x="284.2" y="466.8">90</text><text class="dg" x="303.1" y="455.9">o</text><text class="tk" x="313.3" y="466.8">W</text>
<text class="tk" x="348.0" y="466.8">80</text><text class="dg" x="368.3" y="455.9">o</text><text class="tk" x="377.7" y="466.8">W</text>
<text class="tk" x="411.4" y="466.8">70</text><text class="dg" x="429.9" y="455.9">o</text><text class="tk" x="440.5" y="466.8">W</text>
<text class="tk" x="145.9" y="502.3" textLength="18.1" lengthAdjust="spacingAndGlyphs">48</text><text class="dg" x="165.6" y="490.9">o</text><text class="tk" x="175.3" y="502.3">N</text>
<text class="tk" x="145.9" y="520.4" textLength="18.1" lengthAdjust="spacingAndGlyphs">46</text><text class="dg" x="165.6" y="509.0">o</text><text class="tk" x="175.3" y="520.4">N</text>
<text class="tk" x="145.9" y="537.2" textLength="18.1" lengthAdjust="spacingAndGlyphs">44</text><text class="dg" x="165.6" y="525.8">o</text><text class="tk" x="175.3" y="537.2">N</text>
<text class="tk" x="145.9" y="556.2" textLength="18.1" lengthAdjust="spacingAndGlyphs">42</text><text class="dg" x="165.6" y="544.8">o</text><text class="tk" x="175.3" y="556.2">N</text>
<text class="tk" x="145.9" y="572.4" textLength="18.1" lengthAdjust="spacingAndGlyphs">40</text><text class="dg" x="165.6" y="561.0">o</text><text class="tk" x="175.3" y="572.4">N</text>
<text class="tk" x="145.9" y="587.4" textLength="18.1" lengthAdjust="spacingAndGlyphs">38</text><text class="dg" x="165.6" y="576.0">o</text><text class="tk" x="175.3" y="587.4">N</text>
<text class="tk" x="145.9" y="604.1" textLength="18.1" lengthAdjust="spacingAndGlyphs">36</text><text class="dg" x="165.6" y="592.7">o</text><text class="tk" x="175.3" y="604.1">N</text>
<text class="tk" x="145.9" y="617.9" textLength="18.1" lengthAdjust="spacingAndGlyphs">34</text><text class="dg" x="165.6" y="606.5">o</text><text class="tk" x="175.3" y="617.9">N</text>
<text class="tk" x="145.9" y="635.4" textLength="18.1" lengthAdjust="spacingAndGlyphs">32</text><text class="dg" x="165.6" y="624.0">o</text><text class="tk" x="175.3" y="635.4">N</text>
<text class="tk" x="145.9" y="649.4" textLength="18.1" lengthAdjust="spacingAndGlyphs">30</text><text class="dg" x="165.6" y="638.0">o</text><text class="tk" x="175.3" y="649.4">N</text>
<text class="tk" x="145.9" y="662.6" textLength="18.1" lengthAdjust="spacingAndGlyphs">28</text><text class="dg" x="165.6" y="651.2">o</text><text class="tk" x="175.3" y="662.6">N</text>
<text class="tk" x="145.9" y="677.3" textLength="18.1" lengthAdjust="spacingAndGlyphs">26</text><text class="dg" x="165.6" y="665.9">o</text><text class="tk" x="175.3" y="677.3">N</text>
<text class="tk" x="145.9" y="691.4" textLength="18.1" lengthAdjust="spacingAndGlyphs">24</text><text class="dg" x="165.6" y="680.0">o</text><text class="tk" x="175.3" y="691.4">N</text>
<text class="tk" x="145.9" y="704.3" textLength="18.1" lengthAdjust="spacingAndGlyphs">22</text><text class="dg" x="165.6" y="692.9">o</text><text class="tk" x="175.3" y="704.3">N</text>
<rect x="441.5" y="483.5" width="23" height="218.6" fill="url(#jet)" stroke="#262626" stroke-width="1"/>
<path d="M464.5 592.8h-2.7" stroke="#262626" stroke-width="1"/>
<text class="cb" x="472.6" y="490.8">100</text><text class="cb" x="473.2" y="600.3">50</text><text class="cb" x="473.0" y="709.6">0</text>
<text class="xl" x="140.1" y="730.9">SAT 300 hPa RH (Percent)</text>
<g transform="matrix(1.00000 0 0 1.00000 421.000 390.000)">
<g><path d="M195 96L211 95.6L216.5 95L222 96.2L225.3 99.6L199.2 156L196.5 156.6L194.6 155L194.6 96.5Z" fill="url(#b5)" stroke="url(#b5)" stroke-width="1.6" stroke-linejoin="round"/>
<circle cx="198.4" cy="97.3" r="2.8" fill="url(#b5)"/>
<circle cx="204.2" cy="97.3" r="2.8" fill="url(#b5)"/>
<circle cx="210" cy="97.5" r="2.8" fill="url(#b5)"/>
<circle cx="218.5" cy="96.4" r="3.1" fill="url(#b5)"/>
<circle cx="223.4" cy="100.4" r="3.1" fill="url(#b5)"/>
<circle cx="196.2" cy="98.6" r="2.8" fill="url(#b5)"/>
<circle cx="195.9" cy="103.4" r="3.7" fill="url(#b5)"/>
<circle cx="195.6" cy="111.2" r="2.7" fill="url(#b5)"/>
<circle cx="195.6" cy="116.3" r="2.8" fill="url(#b5)"/>
<circle cx="195.6" cy="120.8" r="2.3" fill="url(#b5)"/>
<circle cx="195.8" cy="125.5" r="3.3" fill="url(#b5)"/>
<circle cx="195.7" cy="142.3" r="3.0" fill="url(#b5)"/>
<circle cx="195.6" cy="148.3" r="2.6" fill="url(#b5)"/>
<circle cx="196.3" cy="154.0" r="3.3" fill="url(#b5)"/></g>
<path clip-path="url(#clipbox)" d="M402.2 170.4L403.6 165.7L406.9 163.9L416.7 164.3L420.4 160.6L425.1 162.5L429.3 160.6L429.3 164.3L425.1 166.7L419.5 167.6L414.3 170.9L413.4 173.2L412.0 170.4L405.5 172.7ZM423.5 158.0L429.3 157.5L429.3 161.5L424.5 161.5ZM381.4 180.7L389.3 179.3L394.3 177.4L396.3 177.5L399.6 182.1L398.7 189.6L395.4 196.1L391.7 199.9L394.5 208.0L385.1 208.0L386.1 199.9L379.1 197.5L384.7 196.1L380.5 188.7L383.7 184.0ZM429.5 115.5L429.5 126.0L426.0 125.5L427.4 120.4ZM299.0 252.0L301.3 249.7L307.4 250.1L309.3 254.3L310.7 259.0L312.1 264.6L308.3 261.8L305.1 262.3L299.5 263.2L298.5 260.4L294.3 259.5L288.3 256.2L287.3 253.4L292.0 253.9L296.7 256.7L299.0 255.7ZM386.1 195.0L396.8 195.0L395.4 197.8L392.1 200.1L394.0 205.3L396.3 208.5L393.5 209.9L396.8 215.5L394.5 213.7L391.7 213.7L389.8 218.3L387.0 219.7L382.3 219.3L379.5 223.0L379.5 225.3L374.9 226.3L373.0 223.0L376.7 222.1L377.7 216.9L379.1 220.2L381.9 217.4L382.3 210.9L379.1 208.1L384.7 210.4L385.6 209.9L385.1 202.5L383.3 198.7L378.6 197.3L384.7 196.9ZM358.0 231.7L362.7 233.5L369.7 231.2L362.7 237.7L359.9 242.4L358.0 246.1L358.0 248.9L352.4 248.9L352.4 247.1L355.2 242.4L356.1 238.7L354.3 236.3L357.1 235.4ZM362.9 286.3L364.8 285.8L366.9 295.9Z" fill="#000" stroke="#000" stroke-width="0.5" stroke-linejoin="round"/>
<path clip-path="url(#clipbox)" d="M196.5 96.7L270.8 96.7M196.5 96.7L196.5 238.8M215.0 96.7L215.0 168.1M196.5 133.6L215.0 133.6M215.0 125.2L262.0 125.2M215.0 151.1L249.8 151.1L252.3 152.4L253.9 152.3L256.7 152.4L259.2 153.2L261.1 154.6L262.7 155.5M196.5 168.1L227.5 168.1M227.5 168.1L227.5 200.6M227.5 176.4L269.8 176.4M196.5 200.6L274.2 200.6M221.6 200.6L221.6 204.5M221.3 204.5L240.4 204.5M240.4 204.5L240.4 219.5M221.3 204.5L221.2 238.8M221.2 238.8L196.5 238.8M257.8 96.7L258.6 100.5L258.3 104.3L260.2 109.9L260.3 115.5L260.8 119.2L262.0 121.9L262.0 125.2L260.2 128.1L261.2 130.0L262.7 130.9L262.7 146.8M262.7 146.8L295.5 146.8M262.7 146.8L261.7 148.6L262.2 150.7L261.6 153.3L262.7 155.5M262.7 155.5L263.3 158.0L264.7 160.1L264.9 163.1L266.0 165.6L266.4 168.1L266.4 170.2L267.0 171.6L268.3 173.9L269.8 176.4L271.5 177.5L272.2 178.4L271.2 180.1L272.4 181.7L274.2 183.7M267.0 171.6L292.3 171.4L293.8 173.1L294.3 173.3M274.2 183.7L274.2 204.5M274.2 204.5L275.4 213.1L275.0 226.5M274.2 204.5L302.2 204.5L302.7 206.1L300.8 208.4L305.1 208.4M240.4 219.5L242.3 220.7L244.2 220.6L245.4 221.9L249.2 222.6L252.3 222.8L253.3 224.7L256.1 224.5L258.0 225.7L259.9 224.2L261.7 225.1L263.3 226.1L266.8 224.8L269.9 224.7L272.4 225.7L275.0 226.5L277.8 227.2M277.8 227.2L277.8 238.9L279.0 240.7L280.6 244.7L279.8 249.1L279.9 252.8L279.0 255.7M277.8 231.2L295.8 231.3M299.2 155.4L300.7 157.1L302.1 158.8L302.1 161.4L301.0 163.2L297.2 164.6L296.3 166.3L297.2 168.5L296.3 170.6L294.3 173.3L293.8 176.4L294.5 178.4L296.6 180.9L298.7 182.9L298.8 184.6L300.3 185.2L302.2 186.0L301.9 187.8L301.0 190.6L302.5 192.6L304.4 193.8L306.3 196.2L306.3 198.2L307.6 199.8L308.6 200.7L308.2 203.7L306.3 204.5L306.0 206.4L305.1 208.4L303.8 211.5L302.5 214.6L301.3 216.2L299.7 219.2L297.5 222.3L296.3 226.1L295.6 228.3L295.8 231.3L296.6 234.3L297.5 236.6L295.6 239.5L293.8 243.2L292.8 246.2M292.8 246.2L304.9 246.2L304.1 248.4L305.4 250.6L306.1 252.2M299.2 155.4L317.0 155.5M318.7 162.1L318.7 181.7L318.1 183.7L318.9 186.6L317.3 189.0L316.0 191.0L315.6 192.6L315.1 194.2M362.7 171.1L361.9 171.9L362.2 173.9L361.4 176.4L360.5 178.9L358.4 181.3L356.2 182.1L355.0 184.6L353.1 185.0L352.1 187.8L349.6 189.2L348.1 186.8L345.2 187.8L342.7 187.4L339.6 186.2L337.7 183.7L335.7 183.7L335.8 186.2L333.3 187.0L331.7 188.6L329.8 190.4L328.6 192.6L326.4 191.4L325.1 193.3L322.0 193.3L318.9 193.0L316.4 193.6L315.1 194.2L315.4 196.6L312.9 199.8L310.1 199.0L308.6 200.7M335.7 183.7L335.8 162.2M306.3 204.5L315.3 204.5L315.3 203.1L325.1 203.3L342.8 203.7L355.4 203.8L365.9 204.1L391.9 204.1M342.8 203.7L346.5 201.7L349.0 199.8L351.5 198.2L353.6 196.3L351.5 195.0L349.6 192.6L349.6 189.2M355.4 203.8L354.0 206.1L352.8 207.6L349.6 208.4L347.7 208.8L345.9 210.7L342.7 211.7L340.8 213.0L338.9 214.6L338.8 216.2M301.3 216.2L314.5 216.1L330.8 216.2L338.8 216.2L346.4 216.1M346.4 216.1L350.9 214.6L359.3 215.0L359.5 215.7L360.1 215.4L361.0 217.5L368.0 217.7L375.0 224.8M314.5 216.1L315.1 216.9L312.8 239.5L313.2 251.0M330.8 216.2L333.4 232.3L334.7 235.8L334.1 238.8L333.8 241.8L334.6 246.2M334.6 246.2L318.2 246.2L319.5 248.4L318.9 251.5M334.6 246.2L335.4 248.4L352.1 249.3L353.1 250.8L353.4 248.4L355.3 248.0L356.8 248.4M346.4 216.1L344.9 218.4L347.7 220.3L349.6 223.8L352.1 226.8L353.7 227.9L356.5 231.3L357.2 234.3L358.7 237.3L360.3 238.6M353.6 196.3L355.4 199.0L358.4 198.6L364.1 196.6L364.4 194.6L367.2 190.2L368.1 187.8L371.0 188.6L373.0 186.2L376.3 181.3L379.6 183.5L380.3 182.0L379.1 179.7L377.2 178.9L375.7 180.1L373.5 179.5L372.2 180.9L369.1 182.9L369.2 178.7M362.7 178.0L392.4 178.0L393.6 177.5M362.7 178.7L362.7 159.9M392.4 178.7L392.4 189.0L397.0 189.0M380.3 182.0L381.6 183.7L384.0 185.1L384.5 187.0L382.9 189.4L384.8 190.2L387.3 191.4L389.2 193.0M270.8 96.7M287.9 118.2L287.2 123.3L284.8 126.0L285.5 129.5L284.7 134.5L286.5 137.0L290.0 139.3L294.0 143.0L295.0 146.5L297.5 152.0L301.0 155.5M298.7 118.2L301.9 121.0L308.9 123.6L314.7 126.0L316.7 129.3L316.9 133.0M316.9 133.0L315.3 137.2L316.2 135.0L318.2 132.0L318.7 136.7L317.3 142.0L316.0 147.3L316.0 152.7L317.7 159.3L319.3 163.3M320.0 162.6L335.3 161.3L348.0 162.0M396.6 133.3L419.0 133.3M407.6 133.3L407.6 152.3L406.9 159.3L405.9 163.0L404.0 165.5M419.0 133.3L418.5 137.8L414.8 141.0L412.9 146.7L412.0 153.3M420.4 131.0L421.2 136.0L422.5 143.0L423.2 152.3M419.0 132.5L423.7 128.3L426.0 124.6L427.4 120.4L429.5 115.5M429.2 115.5L429.2 160.0M407.6 153.4L426.0 153.4M406.9 159.0L420.9 159.0L423.7 162.0M420.9 159.0L421.0 163.0M372.8 152.7L372.8 159.4L395.7 159.4L397.5 162.3L399.9 165.7L396.1 167.6L395.7 171.3L398.0 174.6L396.1 176.8L393.3 176.5M399.9 165.7L403.5 164.0M310.0 249.5L327.7 250.9M313.0 248.3L329.0 249.2M309.8 199.5L306.5 205.0L303.8 210.0L301.2 215.0M275.8 255.2L272.2 256.3L274.5 254.2M262.8 262.4L258.3 267.3L256.3 271.0L258.0 276.0M349.2 267.0L351.8 273.0L355.6 279.2L358.8 284.3" fill="none" stroke="#000" stroke-width="2.8" stroke-linejoin="round" stroke-linecap="round"/>
<path clip-path="url(#clipbox)" d="M393.9 179.7L394.8 182.1L396.7 186.2L397.0 189.0L395.8 192.4L393.6 196.2L391.4 199.6L391.0 196.6L392.3 193.0L391.7 191.0L389.2 188.6L389.8 186.2L390.4 184.6L391.0 181.3L390.4 180.1L388.5 182.9L387.9 185.4L388.5 190.2L389.2 192.6L387.3 191.4L389.2 193.0L389.5 193.4L386.7 193.0L389.2 196.2L386.0 196.6L389.2 198.6L385.4 199.0L389.2 200.6L391.0 201.1L391.9 204.1M391.9 204.1L394.2 210.7L394.0 214.2L391.0 215.6L387.9 218.4L384.8 218.7L380.4 223.0L378.8 224.9L375.0 224.8L372.2 227.6L371.0 229.8L368.5 231.3L366.6 233.6L363.4 235.5L361.5 237.3L360.3 238.6L358.4 242.5L357.2 246.2L356.8 248.4M391.9 204.1L391.0 206.8L387.3 208.4L391.7 208.8L392.3 211.5L387.3 212.3L389.8 213.8L385.4 215.4L387.9 216.5L387.9 218.4M332.0 255.3L330.2 252.4L325.1 250.7L320.7 251.1L318.9 251.5L315.7 251.8L315.7 248.8L315.1 251.0L313.2 251.0L309.4 250.6L306.9 251.3L306.1 252.2L304.4 253.1L306.9 255.0L307.6 258.2L309.4 259.7L306.9 261.1L303.8 258.6L301.9 260.0L297.5 260.4L295.0 258.6L291.9 257.1L288.7 256.8L283.1 255.2L279.0 255.7M255.8 282.8L251.7 281.7L246.0 279.2L243.5 271.5L238.5 265.8L237.3 262.9L234.8 258.2L231.6 255.2L226.0 254.4L223.5 255.7L220.6 260.9L217.8 259.7L212.8 256.8L210.9 252.8L209.0 248.8L205.2 245.6L200.2 240.7L196.5 238.8M273.0 96.8L273.2 98.5L278.0 101.0L284.0 100.5L287.0 103.5L289.5 103.2L294.0 106.3L297.3 103.9L300.5 105.0L306.6 107.0L301.0 108.0L295.4 112.1L287.9 118.2M287.9 118.2L293.5 116.3L296.3 115.4L298.7 117.6L301.9 118.2L306.0 116.0L311.3 112.8L311.2 119.8L313.5 115.2L317.3 115.6L320.4 119.8L325.0 120.2L328.5 117.8L336.2 116.4L334.0 119.4L339.3 119.9L342.0 124.6L337.5 125.8M318.0 131.5L320.0 128.0L322.0 124.0L323.3 127.3L326.7 125.3L331.3 123.6L336.0 125.6M336.0 125.6L334.7 126.3L334.0 129.3L329.3 132.0L326.7 134.7L324.7 141.3L325.3 148.0L326.7 154.0L324.0 160.7L319.3 163.3M334.0 129.3L331.6 133.5L330.6 136.5M337.3 126.3L344.0 130.0L346.0 134.0L345.3 139.3L346.0 141.0L342.5 143.5L342.0 146.0L343.5 144.0L346.3 141.3L349.3 142.7L351.0 150.0L348.7 154.0L346.0 158.0L348.0 162.0M348.0 162.0L353.3 163.4L357.0 161.5L361.3 159.3L366.7 156.7L372.7 153.3L371.3 148.7L375.3 147.7L380.0 148.5L385.3 149.7L389.3 146.0L388.7 141.3L393.3 136.7L400.0 132.7M400.0 132.7L396.6 133.3L392.0 137.2L388.7 141.5L390.5 145.3M426.0 124.6L427.8 135.0L427.4 143.0L424.1 148.0L422.7 151.8L426.0 153.8M426.0 153.8L424.2 156.5L425.0 158.2L429.3 159.3M404.0 165.5L408.0 162.3L417.0 161.6L421.0 163.0M401.7 168.0L404.5 170.4L404.5 175.5L402.7 180.2L399.9 183.0L398.0 180.2L396.1 176.8M291.5 236.4L299.4 236.2M297.3 209.7L300.6 213.6M379.5 224.5L376.7 225.0L372.0 227.2L367.3 231.7L362.7 234.0L358.9 235.4M369.0 228.2L363.5 225.8M369.0 229.8L367.5 226.5M366.5 232.0L364.5 228.5M279.3 253.0L276.5 254.0L274.3 255.3L271.7 257.8L267.0 261.3L262.3 261.1L259.5 264.3L254.9 269.0L254.9 271.8L257.2 275.5L257.7 281.6L255.8 282.5L249.3 280.2M262.3 261.1L261.9 255.0M254.9 271.8L247.0 271.2M252.0 271.8L247.5 273.2M327.7 250.9L329.5 252.0L330.9 254.5L333.0 255.7L335.3 255.6L336.8 253.2L338.2 252.5L341.8 252.4L345.5 256.0L349.1 259.6L349.8 264.0L348.0 269.1L350.5 273.5L354.2 279.3L357.8 285.1L360.7 287.6L363.6 286.5M356.4 248.0L358.5 254.5L362.2 262.5L365.1 270.5L366.5 276.4L365.5 282.2L363.6 286.5" fill="none" stroke="#000" stroke-width="2.4" stroke-linejoin="round" stroke-linecap="round"/>
<circle cx="389.3" cy="180.5" r="0.55" fill="#fff"/><circle cx="399.4" cy="182.4" r="0.55" fill="#fff"/><circle cx="384.9" cy="197.3" r="0.55" fill="#fff"/><circle cx="391.7" cy="194.3" r="0.55" fill="#fff"/><circle cx="389.3" cy="202.2" r="0.55" fill="#fff"/><circle cx="388.4" cy="206.4" r="0.55" fill="#fff"/><circle cx="389.3" cy="202.5" r="0.55" fill="#fff"/><circle cx="382.6" cy="211.3" r="0.55" fill="#fff"/><circle cx="383.5" cy="216.3" r="0.55" fill="#fff"/><circle cx="301.8" cy="254.3" r="0.55" fill="#fff"/><circle cx="304.4" cy="255.5" r="0.55" fill="#fff"/><circle cx="305.1" cy="260.4" r="0.55" fill="#fff"/><circle cx="387.5" cy="186" r="0.55" fill="#fff"/><circle cx="393" cy="189.5" r="0.55" fill="#fff"/>
</g>
<rect x="616.5" y="486.5" width="234" height="213" fill="none" stroke="#262626" stroke-width="1"/>
<text class="tk" x="636.0" y="466.8">100</text><text class="dg" x="664.1" y="455.9">o</text><text class="tk" x="673.2" y="466.8">W</text>
<text class="tk" x="705.2" y="466.8">90</text><text class="dg" x="724.1" y="455.9">o</text><text class="tk" x="734.3" y="466.8">W</text>
<text class="tk" x="769.0" y="466.8">80</text><text class="dg" x="789.3" y="455.9">o</text><text class="tk" x="798.7" y="466.8">W</text>
<text class="tk" x="832.4" y="466.8">70</text><text class="dg" x="850.9" y="455.9">o</text><text class="tk" x="861.5" y="466.8">W</text>
<text class="tk" x="566.9" y="502.3" textLength="18.1" lengthAdjust="spacingAndGlyphs">48</text><text class="dg" x="586.6" y="490.9">o</text><text class="tk" x="596.3" y="502.3">N</text>
<text class="tk" x="566.9" y="520.4" textLength="18.1" lengthAdjust="spacingAndGlyphs">46</text><text class="dg" x="586.6" y="509.0">o</text><text class="tk" x="596.3" y="520.4">N</text>
<text class="tk" x="566.9" y="537.2" textLength="18.1" lengthAdjust="spacingAndGlyphs">44</text><text class="dg" x="586.6" y="525.8">o</text><text class="tk" x="596.3" y="537.2">N</text>
<text class="tk" x="566.9" y="556.2" textLength="18.1" lengthAdjust="spacingAndGlyphs">42</text><text class="dg" x="586.6" y="544.8">o</text><text class="tk" x="596.3" y="556.2">N</text>
<text class="tk" x="566.9" y="572.4" textLength="18.1" lengthAdjust="spacingAndGlyphs">40</text><text class="dg" x="586.6" y="561.0">o</text><text class="tk" x="596.3" y="572.4">N</text>
<text class="tk" x="566.9" y="587.4" textLength="18.1" lengthAdjust="spacingAndGlyphs">38</text><text class="dg" x="586.6" y="576.0">o</text><text class="tk" x="596.3" y="587.4">N</text>
<text class="tk" x="566.9" y="604.1" textLength="18.1" lengthAdjust="spacingAndGlyphs">36</text><text class="dg" x="586.6" y="592.7">o</text><text class="tk" x="596.3" y="604.1">N</text>
<text class="tk" x="566.9" y="617.9" textLength="18.1" lengthAdjust="spacingAndGlyphs">34</text><text class="dg" x="586.6" y="606.5">o</text><text class="tk" x="596.3" y="617.9">N</text>
<text class="tk" x="566.9" y="635.4" textLength="18.1" lengthAdjust="spacingAndGlyphs">32</text><text class="dg" x="586.6" y="624.0">o</text><text class="tk" x="596.3" y="635.4">N</text>
<text class="tk" x="566.9" y="649.4" textLength="18.1" lengthAdjust="spacingAndGlyphs">30</text><text class="dg" x="586.6" y="638.0">o</text><text class="tk" x="596.3" y="649.4">N</text>
<text class="tk" x="566.9" y="662.6" textLength="18.1" lengthAdjust="spacingAndGlyphs">28</text><text class="dg" x="586.6" y="651.2">o</text><text class="tk" x="596.3" y="662.6">N</text>
<text class="tk" x="566.9" y="677.3" textLength="18.1" lengthAdjust="spacingAndGlyphs">26</text><text class="dg" x="586.6" y="665.9">o</text><text class="tk" x="596.3" y="677.3">N</text>
<text class="tk" x="566.9" y="691.4" textLength="18.1" lengthAdjust="spacingAndGlyphs">24</text><text class="dg" x="586.6" y="680.0">o</text><text class="tk" x="596.3" y="691.4">N</text>
<text class="tk" x="566.9" y="704.3" textLength="18.1" lengthAdjust="spacingAndGlyphs">22</text><text class="dg" x="586.6" y="692.9">o</text><text class="tk" x="596.3" y="704.3">N</text>
<rect x="862.5" y="483.5" width="23" height="218.6" fill="url(#jet)" stroke="#262626" stroke-width="1"/>
<path d="M885.5 592.8h-2.7" stroke="#262626" stroke-width="1"/>
<text class="cb" x="893.6" y="490.8">100</text><text class="cb" x="894.2" y="600.3">50</text><text class="cb" x="894.0" y="709.6">0</text>
<text class="xl" x="560.6" y="730.9">SAT 350 hPa RH (Percent)</text>
<g transform="matrix(1.00427 0 0 1.00939 841.165 388.094)">
<g><path d="M195 96L211 95.6L216.5 95L222 96.2L225.3 99.6L199.2 156L196.5 156.6L194.6 155L194.6 96.5Z" fill="url(#b6)" stroke="url(#b6)" stroke-width="1.6" stroke-linejoin="round"/>
<circle cx="198.4" cy="97.3" r="2.8" fill="url(#b6)"/>
<circle cx="204.2" cy="97.3" r="2.8" fill="url(#b6)"/>
<circle cx="210" cy="97.5" r="2.8" fill="url(#b6)"/>
<circle cx="218.5" cy="96.4" r="3.1" fill="url(#b6)"/>
<circle cx="223.4" cy="100.4" r="3.1" fill="url(#b6)"/>
<circle cx="196.2" cy="98.6" r="2.8" fill="url(#b6)"/>
<circle cx="195.9" cy="103.4" r="3.7" fill="url(#b6)"/>
<circle cx="195.6" cy="111.2" r="2.7" fill="url(#b6)"/>
<circle cx="195.6" cy="116.3" r="2.8" fill="url(#b6)"/>
<circle cx="195.6" cy="120.8" r="2.3" fill="url(#b6)"/>
<circle cx="195.8" cy="125.5" r="3.3" fill="url(#b6)"/>
<circle cx="195.7" cy="142.3" r="3.0" fill="url(#b6)"/>
<circle cx="195.6" cy="148.3" r="2.6" fill="url(#b6)"/>
<circle cx="196.3" cy="154.0" r="3.3" fill="url(#b6)"/><circle cx="199.9" cy="109.7" r="5" fill="url(#or6)"/><rect x="190" y="92" width="4.9" height="28" fill="#fff" opacity="0.6"/><rect x="190" y="92" width="36" height="3.4" fill="#fff" opacity="0.45"/><circle cx="193.2" cy="103.6" r="2" fill="#e8f480" opacity="0.8"/><circle cx="193.4" cy="99.6" r="1.8" fill="#f0f8a0" opacity="0.7"/></g>
<path clip-path="url(#clipbox)" d="M402.2 170.4L403.6 165.7L406.9 163.9L416.7 164.3L420.4 160.6L425.1 162.5L429.3 160.6L429.3 164.3L425.1 166.7L419.5 167.6L414.3 170.9L413.4 173.2L412.0 170.4L405.5 172.7ZM423.5 158.0L429.3 157.5L429.3 161.5L424.5 161.5ZM381.4 180.7L389.3 179.3L394.3 177.4L396.3 177.5L399.6 182.1L398.7 189.6L395.4 196.1L391.7 199.9L394.5 208.0L385.1 208.0L386.1 199.9L379.1 197.5L384.7 196.1L380.5 188.7L383.7 184.0ZM429.5 115.5L429.5 126.0L426.0 125.5L427.4 120.4ZM299.0 252.0L301.3 249.7L307.4 250.1L309.3 254.3L310.7 259.0L312.1 264.6L308.3 261.8L305.1 262.3L299.5 263.2L298.5 260.4L294.3 259.5L288.3 256.2L287.3 253.4L292.0 253.9L296.7 256.7L299.0 255.7ZM386.1 195.0L396.8 195.0L395.4 197.8L392.1 200.1L394.0 205.3L396.3 208.5L393.5 209.9L396.8 215.5L394.5 213.7L391.7 213.7L389.8 218.3L387.0 219.7L382.3 219.3L379.5 223.0L379.5 225.3L374.9 226.3L373.0 223.0L376.7 222.1L377.7 216.9L379.1 220.2L381.9 217.4L382.3 210.9L379.1 208.1L384.7 210.4L385.6 209.9L385.1 202.5L383.3 198.7L378.6 197.3L384.7 196.9ZM358.0 231.7L362.7 233.5L369.7 231.2L362.7 237.7L359.9 242.4L358.0 246.1L358.0 248.9L352.4 248.9L352.4 247.1L355.2 242.4L356.1 238.7L354.3 236.3L357.1 235.4ZM362.9 286.3L364.8 285.8L366.9 295.9Z" fill="#000" stroke="#000" stroke-width="0.5" stroke-linejoin="round"/>
<path clip-path="url(#clipbox)" d="M196.5 96.7L270.8 96.7M196.5 96.7L196.5 238.8M215.0 96.7L215.0 168.1M196.5 133.6L215.0 133.6M215.0 125.2L262.0 125.2M215.0 151.1L249.8 151.1L252.3 152.4L253.9 152.3L256.7 152.4L259.2 153.2L261.1 154.6L262.7 155.5M196.5 168.1L227.5 168.1M227.5 168.1L227.5 200.6M227.5 176.4L269.8 176.4M196.5 200.6L274.2 200.6M221.6 200.6L221.6 204.5M221.3 204.5L240.4 204.5M240.4 204.5L240.4 219.5M221.3 204.5L221.2 238.8M221.2 238.8L196.5 238.8M257.8 96.7L258.6 100.5L258.3 104.3L260.2 109.9L260.3 115.5L260.8 119.2L262.0 121.9L262.0 125.2L260.2 128.1L261.2 130.0L262.7 130.9L262.7 146.8M262.7 146.8L295.5 146.8M262.7 146.8L261.7 148.6L262.2 150.7L261.6 153.3L262.7 155.5M262.7 155.5L263.3 158.0L264.7 160.1L264.9 163.1L266.0 165.6L266.4 168.1L266.4 170.2L267.0 171.6L268.3 173.9L269.8 176.4L271.5 177.5L272.2 178.4L271.2 180.1L272.4 181.7L274.2 183.7M267.0 171.6L292.3 171.4L293.8 173.1L294.3 173.3M274.2 183.7L274.2 204.5M274.2 204.5L275.4 213.1L275.0 226.5M274.2 204.5L302.2 204.5L302.7 206.1L300.8 208.4L305.1 208.4M240.4 219.5L242.3 220.7L244.2 220.6L245.4 221.9L249.2 222.6L252.3 222.8L253.3 224.7L256.1 224.5L258.0 225.7L259.9 224.2L261.7 225.1L263.3 226.1L266.8 224.8L269.9 224.7L272.4 225.7L275.0 226.5L277.8 227.2M277.8 227.2L277.8 238.9L279.0 240.7L280.6 244.7L279.8 249.1L279.9 252.8L279.0 255.7M277.8 231.2L295.8 231.3M299.2 155.4L300.7 157.1L302.1 158.8L302.1 161.4L301.0 163.2L297.2 164.6L296.3 166.3L297.2 168.5L296.3 170.6L294.3 173.3L293.8 176.4L294.5 178.4L296.6 180.9L298.7 182.9L298.8 184.6L300.3 185.2L302.2 186.0L301.9 187.8L301.0 190.6L302.5 192.6L304.4 193.8L306.3 196.2L306.3 198.2L307.6 199.8L308.6 200.7L308.2 203.7L306.3 204.5L306.0 206.4L305.1 208.4L303.8 211.5L302.5 214.6L301.3 216.2L299.7 219.2L297.5 222.3L296.3 226.1L295.6 228.3L295.8 231.3L296.6 234.3L297.5 236.6L295.6 239.5L293.8 243.2L292.8 246.2M292.8 246.2L304.9 246.2L304.1 248.4L305.4 250.6L306.1 252.2M299.2 155.4L317.0 155.5M318.7 162.1L318.7 181.7L318.1 183.7L318.9 186.6L317.3 189.0L316.0 191.0L315.6 192.6L315.1 194.2M362.7 171.1L361.9 171.9L362.2 173.9L361.4 176.4L360.5 178.9L358.4 181.3L356.2 182.1L355.0 184.6L353.1 185.0L352.1 187.8L349.6 189.2L348.1 186.8L345.2 187.8L342.7 187.4L339.6 186.2L337.7 183.7L335.7 183.7L335.8 186.2L333.3 187.0L331.7 188.6L329.8 190.4L328.6 192.6L326.4 191.4L325.1 193.3L322.0 193.3L318.9 193.0L316.4 193.6L315.1 194.2L315.4 196.6L312.9 199.8L310.1 199.0L308.6 200.7M335.7 183.7L335.8 162.2M306.3 204.5L315.3 204.5L315.3 203.1L325.1 203.3L342.8 203.7L355.4 203.8L365.9 204.1L391.9 204.1M342.8 203.7L346.5 201.7L349.0 199.8L351.5 198.2L353.6 196.3L351.5 195.0L349.6 192.6L349.6 189.2M355.4 203.8L354.0 206.1L352.8 207.6L349.6 208.4L347.7 208.8L345.9 210.7L342.7 211.7L340.8 213.0L338.9 214.6L338.8 216.2M301.3 216.2L314.5 216.1L330.8 216.2L338.8 216.2L346.4 216.1M346.4 216.1L350.9 214.6L359.3 215.0L359.5 215.7L360.1 215.4L361.0 217.5L368.0 217.7L375.0 224.8M314.5 216.1L315.1 216.9L312.8 239.5L313.2 251.0M330.8 216.2L333.4 232.3L334.7 235.8L334.1 238.8L333.8 241.8L334.6 246.2M334.6 246.2L318.2 246.2L319.5 248.4L318.9 251.5M334.6 246.2L335.4 248.4L352.1 249.3L353.1 250.8L353.4 248.4L355.3 248.0L356.8 248.4M346.4 216.1L344.9 218.4L347.7 220.3L349.6 223.8L352.1 226.8L353.7 227.9L356.5 231.3L357.2 234.3L358.7 237.3L360.3 238.6M353.6 196.3L355.4 199.0L358.4 198.6L364.1 196.6L364.4 194.6L367.2 190.2L368.1 187.8L371.0 188.6L373.0 186.2L376.3 181.3L379.6 183.5L380.3 182.0L379.1 179.7L377.2 178.9L375.7 180.1L373.5 179.5L372.2 180.9L369.1 182.9L369.2 178.7M362.7 178.0L392.4 178.0L393.6 177.5M362.7 178.7L362.7 159.9M392.4 178.7L392.4 189.0L397.0 189.0M380.3 182.0L381.6 183.7L384.0 185.1L384.5 187.0L382.9 189.4L384.8 190.2L387.3 191.4L389.2 193.0M270.8 96.7M287.9 118.2L287.2 123.3L284.8 126.0L285.5 129.5L284.7 134.5L286.5 137.0L290.0 139.3L294.0 143.0L295.0 146.5L297.5 152.0L301.0 155.5M298.7 118.2L301.9 121.0L308.9 123.6L314.7 126.0L316.7 129.3L316.9 133.0M316.9 133.0L315.3 137.2L316.2 135.0L318.2 132.0L318.7 136.7L317.3 142.0L316.0 147.3L316.0 152.7L317.7 159.3L319.3 163.3M320.0 162.6L335.3 161.3L348.0 162.0M396.6 133.3L419.0 133.3M407.6 133.3L407.6 152.3L406.9 159.3L405.9 163.0L404.0 165.5M419.0 133.3L418.5 137.8L414.8 141.0L412.9 146.7L412.0 153.3M420.4 131.0L421.2 136.0L422.5 143.0L423.2 152.3M419.0 132.5L423.7 128.3L426.0 124.6L427.4 120.4L429.5 115.5M429.2 115.5L429.2 160.0M407.6 153.4L426.0 153.4M406.9 159.0L420.9 159.0L423.7 162.0M420.9 159.0L421.0 163.0M372.8 152.7L372.8 159.4L395.7 159.4L397.5 162.3L399.9 165.7L396.1 167.6L395.7 171.3L398.0 174.6L396.1 176.8L393.3 176.5M399.9 165.7L403.5 164.0M310.0 249.5L327.7 250.9M313.0 248.3L329.0 249.2M309.8 199.5L306.5 205.0L303.8 210.0L301.2 215.0M275.8 255.2L272.2 256.3L274.5 254.2M262.8 262.4L258.3 267.3L256.3 271.0L258.0 276.0M349.2 267.0L351.8 273.0L355.6 279.2L358.8 284.3" fill="none" stroke="#000" stroke-width="2.8" stroke-linejoin="round" stroke-linecap="round"/>
<path clip-path="url(#clipbox)" d="M393.9 179.7L394.8 182.1L396.7 186.2L397.0 189.0L395.8 192.4L393.6 196.2L391.4 199.6L391.0 196.6L392.3 193.0L391.7 191.0L389.2 188.6L389.8 186.2L390.4 184.6L391.0 181.3L390.4 180.1L388.5 182.9L387.9 185.4L388.5 190.2L389.2 192.6L387.3 191.4L389.2 193.0L389.5 193.4L386.7 193.0L389.2 196.2L386.0 196.6L389.2 198.6L385.4 199.0L389.2 200.6L391.0 201.1L391.9 204.1M391.9 204.1L394.2 210.7L394.0 214.2L391.0 215.6L387.9 218.4L384.8 218.7L380.4 223.0L378.8 224.9L375.0 224.8L372.2 227.6L371.0 229.8L368.5 231.3L366.6 233.6L363.4 235.5L361.5 237.3L360.3 238.6L358.4 242.5L357.2 246.2L356.8 248.4M391.9 204.1L391.0 206.8L387.3 208.4L391.7 208.8L392.3 211.5L387.3 212.3L389.8 213.8L385.4 215.4L387.9 216.5L387.9 218.4M332.0 255.3L330.2 252.4L325.1 250.7L320.7 251.1L318.9 251.5L315.7 251.8L315.7 248.8L315.1 251.0L313.2 251.0L309.4 250.6L306.9 251.3L306.1 252.2L304.4 253.1L306.9 255.0L307.6 258.2L309.4 259.7L306.9 261.1L303.8 258.6L301.9 260.0L297.5 260.4L295.0 258.6L291.9 257.1L288.7 256.8L283.1 255.2L279.0 255.7M255.8 282.8L251.7 281.7L246.0 279.2L243.5 271.5L238.5 265.8L237.3 262.9L234.8 258.2L231.6 255.2L226.0 254.4L223.5 255.7L220.6 260.9L217.8 259.7L212.8 256.8L210.9 252.8L209.0 248.8L205.2 245.6L200.2 240.7L196.5 238.8M273.0 96.8L273.2 98.5L278.0 101.0L284.0 100.5L287.0 103.5L289.5 103.2L294.0 106.3L297.3 103.9L300.5 105.0L306.6 107.0L301.0 108.0L295.4 112.1L287.9 118.2M287.9 118.2L293.5 116.3L296.3 115.4L298.7 117.6L301.9 118.2L306.0 116.0L311.3 112.8L311.2 119.8L313.5 115.2L317.3 115.6L320.4 119.8L325.0 120.2L328.5 117.8L336.2 116.4L334.0 119.4L339.3 119.9L342.0 124.6L337.5 125.8M318.0 131.5L320.0 128.0L322.0 124.0L323.3 127.3L326.7 125.3L331.3 123.6L336.0 125.6M336.0 125.6L334.7 126.3L334.0 129.3L329.3 132.0L326.7 134.7L324.7 141.3L325.3 148.0L326.7 154.0L324.0 160.7L319.3 163.3M334.0 129.3L331.6 133.5L330.6 136.5M337.3 126.3L344.0 130.0L346.0 134.0L345.3 139.3L346.0 141.0L342.5 143.5L342.0 146.0L343.5 144.0L346.3 141.3L349.3 142.7L351.0 150.0L348.7 154.0L346.0 158.0L348.0 162.0M348.0 162.0L353.3 163.4L357.0 161.5L361.3 159.3L366.7 156.7L372.7 153.3L371.3 148.7L375.3 147.7L380.0 148.5L385.3 149.7L389.3 146.0L388.7 141.3L393.3 136.7L400.0 132.7M400.0 132.7L396.6 133.3L392.0 137.2L388.7 141.5L390.5 145.3M426.0 124.6L427.8 135.0L427.4 143.0L424.1 148.0L422.7 151.8L426.0 153.8M426.0 153.8L424.2 156.5L425.0 158.2L429.3 159.3M404.0 165.5L408.0 162.3L417.0 161.6L421.0 163.0M401.7 168.0L404.5 170.4L404.5 175.5L402.7 180.2L399.9 183.0L398.0 180.2L396.1 176.8M291.5 236.4L299.4 236.2M297.3 209.7L300.6 213.6M379.5 224.5L376.7 225.0L372.0 227.2L367.3 231.7L362.7 234.0L358.9 235.4M369.0 228.2L363.5 225.8M369.0 229.8L367.5 226.5M366.5 232.0L364.5 228.5M279.3 253.0L276.5 254.0L274.3 255.3L271.7 257.8L267.0 261.3L262.3 261.1L259.5 264.3L254.9 269.0L254.9 271.8L257.2 275.5L257.7 281.6L255.8 282.5L249.3 280.2M262.3 261.1L261.9 255.0M254.9 271.8L247.0 271.2M252.0 271.8L247.5 273.2M327.7 250.9L329.5 252.0L330.9 254.5L333.0 255.7L335.3 255.6L336.8 253.2L338.2 252.5L341.8 252.4L345.5 256.0L349.1 259.6L349.8 264.0L348.0 269.1L350.5 273.5L354.2 279.3L357.8 285.1L360.7 287.6L363.6 286.5M356.4 248.0L358.5 254.5L362.2 262.5L365.1 270.5L366.5 276.4L365.5 282.2L363.6 286.5" fill="none" stroke="#000" stroke-width="2.4" stroke-linejoin="round" stroke-linecap="round"/>
<circle cx="389.3" cy="180.5" r="0.55" fill="#fff"/><circle cx="399.4" cy="182.4" r="0.55" fill="#fff"/><circle cx="384.9" cy="197.3" r="0.55" fill="#fff"/><circle cx="391.7" cy="194.3" r="0.55" fill="#fff"/><circle cx="389.3" cy="202.2" r="0.55" fill="#fff"/><circle cx="388.4" cy="206.4" r="0.55" fill="#fff"/><circle cx="389.3" cy="202.5" r="0.55" fill="#fff"/><circle cx="382.6" cy="211.3" r="0.55" fill="#fff"/><circle cx="383.5" cy="216.3" r="0.55" fill="#fff"/><circle cx="301.8" cy="254.3" r="0.55" fill="#fff"/><circle cx="304.4" cy="255.5" r="0.55" fill="#fff"/><circle cx="305.1" cy="260.4" r="0.55" fill="#fff"/><circle cx="387.5" cy="186" r="0.55" fill="#fff"/><circle cx="393" cy="189.5" r="0.55" fill="#fff"/>
</g>
<rect x="1037.5" y="485.5" width="235" height="215" fill="none" stroke="#262626" stroke-width="1"/>
<text class="tk" x="1058.6" y="464.8">100</text><text class="dg" x="1086.7" y="453.9">o</text><text class="tk" x="1095.8" y="464.8">W</text>
<text class="tk" x="1127.8" y="464.8">90</text><text class="dg" x="1146.7" y="453.9">o</text><text class="tk" x="1156.9" y="464.8">W</text>
<text class="tk" x="1190.4" y="464.8">80</text><text class="dg" x="1210.7" y="453.9">o</text><text class="tk" x="1220.1" y="464.8">W</text>
<text class="tk" x="1255.0" y="464.8">70</text><text class="dg" x="1273.5" y="453.9">o</text><text class="tk" x="1284.1" y="464.8">W</text>
<text class="tk" x="987.9" y="502.2" textLength="18.1" lengthAdjust="spacingAndGlyphs">48</text><text class="dg" x="1007.6" y="490.8">o</text><text class="tk" x="1017.3" y="502.2">N</text>
<text class="tk" x="987.9" y="520.6" textLength="18.1" lengthAdjust="spacingAndGlyphs">46</text><text class="dg" x="1007.6" y="509.2">o</text><text class="tk" x="1017.3" y="520.6">N</text>
<text class="tk" x="987.9" y="537.7" textLength="18.1" lengthAdjust="spacingAndGlyphs">44</text><text class="dg" x="1007.6" y="526.3">o</text><text class="tk" x="1017.3" y="537.7">N</text>
<text class="tk" x="987.9" y="556.6" textLength="18.1" lengthAdjust="spacingAndGlyphs">42</text><text class="dg" x="1007.6" y="545.2">o</text><text class="tk" x="1017.3" y="556.6">N</text>
<text class="tk" x="987.9" y="572.8" textLength="18.1" lengthAdjust="spacingAndGlyphs">40</text><text class="dg" x="1007.6" y="561.4">o</text><text class="tk" x="1017.3" y="572.8">N</text>
<text class="tk" x="987.9" y="587.7" textLength="18.1" lengthAdjust="spacingAndGlyphs">38</text><text class="dg" x="1007.6" y="576.3">o</text><text class="tk" x="1017.3" y="587.7">N</text>
<text class="tk" x="987.9" y="604.5" textLength="18.1" lengthAdjust="spacingAndGlyphs">36</text><text class="dg" x="1007.6" y="593.1">o</text><text class="tk" x="1017.3" y="604.5">N</text>
<text class="tk" x="987.9" y="618.6" textLength="18.1" lengthAdjust="spacingAndGlyphs">34</text><text class="dg" x="1007.6" y="607.2">o</text><text class="tk" x="1017.3" y="618.6">N</text>
<text class="tk" x="987.9" y="635.7" textLength="18.1" lengthAdjust="spacingAndGlyphs">32</text><text class="dg" x="1007.6" y="624.3">o</text><text class="tk" x="1017.3" y="635.7">N</text>
<text class="tk" x="987.9" y="650.0" textLength="18.1" lengthAdjust="spacingAndGlyphs">30</text><text class="dg" x="1007.6" y="638.6">o</text><text class="tk" x="1017.3" y="650.0">N</text>
<text class="tk" x="987.9" y="664.9" textLength="18.1" lengthAdjust="spacingAndGlyphs">28</text><text class="dg" x="1007.6" y="653.5">o</text><text class="tk" x="1017.3" y="664.9">N</text>
<text class="tk" x="987.9" y="679.1" textLength="18.1" lengthAdjust="spacingAndGlyphs">26</text><text class="dg" x="1007.6" y="667.7">o</text><text class="tk" x="1017.3" y="679.1">N</text>
<text class="tk" x="987.9" y="691.7" textLength="18.1" lengthAdjust="spacingAndGlyphs">24</text><text class="dg" x="1007.6" y="680.3">o</text><text class="tk" x="1017.3" y="691.7">N</text>
<text class="tk" x="987.9" y="706.3" textLength="18.1" lengthAdjust="spacingAndGlyphs">22</text><text class="dg" x="1007.6" y="694.9">o</text><text class="tk" x="1017.3" y="706.3">N</text>
<rect x="1285.5" y="483.5" width="23" height="218.6" fill="url(#jet)" stroke="#262626" stroke-width="1"/>
<path d="M1308.5 592.8h-2.7" stroke="#262626" stroke-width="1"/>
<text class="cb" x="1316.6" y="490.8">100</text><text class="cb" x="1317.2" y="600.3">50</text><text class="cb" x="1317.0" y="709.6">0</text>
<text class="xl" x="982.6" y="731.8">SAT 400 hPa RH (Percent)</text>
</svg>
</body></html>
